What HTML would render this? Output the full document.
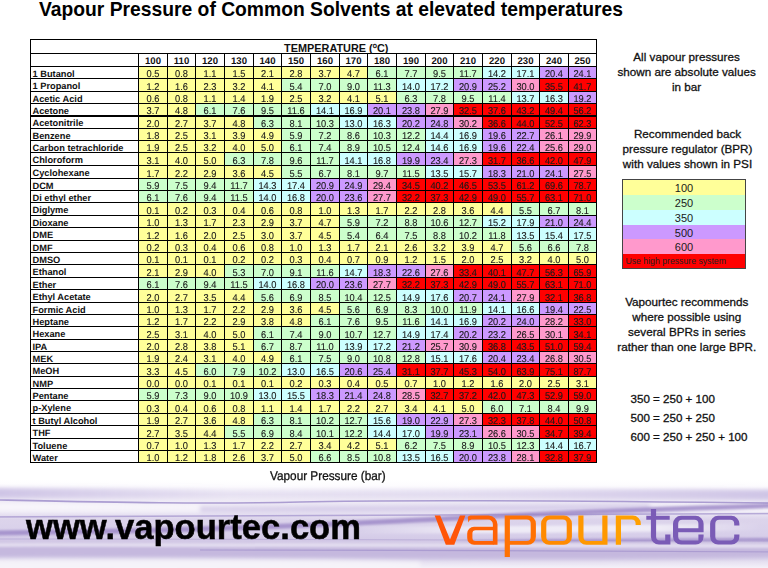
<!DOCTYPE html><html><head><meta charset="utf-8"><style>
*{margin:0;padding:0;box-sizing:border-box}
html,body{width:768px;height:568px;overflow:hidden;background:#fff;font-family:"Liberation Sans",sans-serif}
.a{position:absolute}
.c{position:absolute;text-align:center;font-size:9.9px;color:#1a1a1a;white-space:nowrap;-webkit-text-stroke:0.12px #1a1a1a;transform:scaleX(0.94);text-rendering:geometricPrecision}
.n{position:absolute;font-size:9.25px;font-weight:bold;color:#111;white-space:nowrap;text-rendering:geometricPrecision}
.h{position:absolute;text-align:center;font-size:9.6px;font-weight:bold;color:#111;text-rendering:geometricPrecision}
.l{position:absolute;background:#000}
.t{position:absolute;text-align:center;font-size:11.7px;color:#111;-webkit-text-stroke:0.3px #111;line-height:15.1px;white-space:nowrap}
</style></head><body>

<div class="a" style="left:39px;top:-0.8px;font-size:19.3px;font-weight:bold;color:#000;white-space:nowrap">Vapour Pressure of Common Solvents at elevated temperatures</div>
<div class="a" style="left:138px;top:66px;width:29px;height:12px;background:#ffff99"></div>
<div class="a" style="left:167px;top:66px;width:28px;height:12px;background:#ffff99"></div>
<div class="a" style="left:195px;top:66px;width:29px;height:12px;background:#ffff99"></div>
<div class="a" style="left:224px;top:66px;width:29px;height:12px;background:#ffff99"></div>
<div class="a" style="left:253px;top:66px;width:28px;height:12px;background:#ffff99"></div>
<div class="a" style="left:281px;top:66px;width:29px;height:12px;background:#ffff99"></div>
<div class="a" style="left:310px;top:66px;width:29px;height:12px;background:#ffff99"></div>
<div class="a" style="left:339px;top:66px;width:28px;height:12px;background:#ffff99"></div>
<div class="a" style="left:367px;top:66px;width:29px;height:12px;background:#ccffcc"></div>
<div class="a" style="left:396px;top:66px;width:29px;height:12px;background:#ccffcc"></div>
<div class="a" style="left:425px;top:66px;width:28px;height:12px;background:#ccffcc"></div>
<div class="a" style="left:453px;top:66px;width:29px;height:12px;background:#ccffcc"></div>
<div class="a" style="left:482px;top:66px;width:29px;height:12px;background:#ccffff"></div>
<div class="a" style="left:511px;top:66px;width:28px;height:12px;background:#ccffff"></div>
<div class="a" style="left:539px;top:66px;width:29px;height:12px;background:#cc99ff"></div>
<div class="a" style="left:568px;top:66px;width:28px;height:12px;background:#cc99ff"></div>
<div class="a" style="left:138px;top:78px;width:29px;height:13px;background:#ffff99"></div>
<div class="a" style="left:167px;top:78px;width:28px;height:13px;background:#ffff99"></div>
<div class="a" style="left:195px;top:78px;width:29px;height:13px;background:#ffff99"></div>
<div class="a" style="left:224px;top:78px;width:29px;height:13px;background:#ffff99"></div>
<div class="a" style="left:253px;top:78px;width:28px;height:13px;background:#ffff99"></div>
<div class="a" style="left:281px;top:78px;width:29px;height:13px;background:#ccffcc"></div>
<div class="a" style="left:310px;top:78px;width:29px;height:13px;background:#ccffcc"></div>
<div class="a" style="left:339px;top:78px;width:28px;height:13px;background:#ccffcc"></div>
<div class="a" style="left:367px;top:78px;width:29px;height:13px;background:#ccffcc"></div>
<div class="a" style="left:396px;top:78px;width:29px;height:13px;background:#ccffff"></div>
<div class="a" style="left:425px;top:78px;width:28px;height:13px;background:#ccffff"></div>
<div class="a" style="left:453px;top:78px;width:29px;height:13px;background:#cc99ff"></div>
<div class="a" style="left:482px;top:78px;width:29px;height:13px;background:#cc99ff"></div>
<div class="a" style="left:511px;top:78px;width:28px;height:13px;background:#ff99cc"></div>
<div class="a" style="left:539px;top:78px;width:29px;height:13px;background:#ff0000"></div>
<div class="a" style="left:568px;top:78px;width:28px;height:13px;background:#ff0000"></div>
<div class="a" style="left:138px;top:91px;width:29px;height:12px;background:#ffff99"></div>
<div class="a" style="left:167px;top:91px;width:28px;height:12px;background:#ffff99"></div>
<div class="a" style="left:195px;top:91px;width:29px;height:12px;background:#ffff99"></div>
<div class="a" style="left:224px;top:91px;width:29px;height:12px;background:#ffff99"></div>
<div class="a" style="left:253px;top:91px;width:28px;height:12px;background:#ffff99"></div>
<div class="a" style="left:281px;top:91px;width:29px;height:12px;background:#ffff99"></div>
<div class="a" style="left:310px;top:91px;width:29px;height:12px;background:#ffff99"></div>
<div class="a" style="left:339px;top:91px;width:28px;height:12px;background:#ffff99"></div>
<div class="a" style="left:367px;top:91px;width:29px;height:12px;background:#ffff99"></div>
<div class="a" style="left:396px;top:91px;width:29px;height:12px;background:#ccffcc"></div>
<div class="a" style="left:425px;top:91px;width:28px;height:12px;background:#ccffcc"></div>
<div class="a" style="left:453px;top:91px;width:29px;height:12px;background:#ccffcc"></div>
<div class="a" style="left:482px;top:91px;width:29px;height:12px;background:#ccffcc"></div>
<div class="a" style="left:511px;top:91px;width:28px;height:12px;background:#ccffff"></div>
<div class="a" style="left:539px;top:91px;width:29px;height:12px;background:#ccffff"></div>
<div class="a" style="left:568px;top:91px;width:28px;height:12px;background:#cc99ff"></div>
<div class="a" style="left:138px;top:103px;width:29px;height:12px;background:#ffff99"></div>
<div class="a" style="left:167px;top:103px;width:28px;height:12px;background:#ffff99"></div>
<div class="a" style="left:195px;top:103px;width:29px;height:12px;background:#ccffcc"></div>
<div class="a" style="left:224px;top:103px;width:29px;height:12px;background:#ccffcc"></div>
<div class="a" style="left:253px;top:103px;width:28px;height:12px;background:#ccffcc"></div>
<div class="a" style="left:281px;top:103px;width:29px;height:12px;background:#ccffcc"></div>
<div class="a" style="left:310px;top:103px;width:29px;height:12px;background:#ccffff"></div>
<div class="a" style="left:339px;top:103px;width:28px;height:12px;background:#ccffff"></div>
<div class="a" style="left:367px;top:103px;width:29px;height:12px;background:#cc99ff"></div>
<div class="a" style="left:396px;top:103px;width:29px;height:12px;background:#cc99ff"></div>
<div class="a" style="left:425px;top:103px;width:28px;height:12px;background:#ff99cc"></div>
<div class="a" style="left:453px;top:103px;width:29px;height:12px;background:#ff0000"></div>
<div class="a" style="left:482px;top:103px;width:29px;height:12px;background:#ff0000"></div>
<div class="a" style="left:511px;top:103px;width:28px;height:12px;background:#ff0000"></div>
<div class="a" style="left:539px;top:103px;width:29px;height:12px;background:#ff0000"></div>
<div class="a" style="left:568px;top:103px;width:28px;height:12px;background:#ff0000"></div>
<div class="a" style="left:138px;top:115px;width:29px;height:13px;background:#ffff99"></div>
<div class="a" style="left:167px;top:115px;width:28px;height:13px;background:#ffff99"></div>
<div class="a" style="left:195px;top:115px;width:29px;height:13px;background:#ffff99"></div>
<div class="a" style="left:224px;top:115px;width:29px;height:13px;background:#ffff99"></div>
<div class="a" style="left:253px;top:115px;width:28px;height:13px;background:#ccffcc"></div>
<div class="a" style="left:281px;top:115px;width:29px;height:13px;background:#ccffcc"></div>
<div class="a" style="left:310px;top:115px;width:29px;height:13px;background:#ccffcc"></div>
<div class="a" style="left:339px;top:115px;width:28px;height:13px;background:#ccffff"></div>
<div class="a" style="left:367px;top:115px;width:29px;height:13px;background:#ccffff"></div>
<div class="a" style="left:396px;top:115px;width:29px;height:13px;background:#cc99ff"></div>
<div class="a" style="left:425px;top:115px;width:28px;height:13px;background:#cc99ff"></div>
<div class="a" style="left:453px;top:115px;width:29px;height:13px;background:#ff99cc"></div>
<div class="a" style="left:482px;top:115px;width:29px;height:13px;background:#ff0000"></div>
<div class="a" style="left:511px;top:115px;width:28px;height:13px;background:#ff0000"></div>
<div class="a" style="left:539px;top:115px;width:29px;height:13px;background:#ff0000"></div>
<div class="a" style="left:568px;top:115px;width:28px;height:13px;background:#ff0000"></div>
<div class="a" style="left:138px;top:128px;width:29px;height:12px;background:#ffff99"></div>
<div class="a" style="left:167px;top:128px;width:28px;height:12px;background:#ffff99"></div>
<div class="a" style="left:195px;top:128px;width:29px;height:12px;background:#ffff99"></div>
<div class="a" style="left:224px;top:128px;width:29px;height:12px;background:#ffff99"></div>
<div class="a" style="left:253px;top:128px;width:28px;height:12px;background:#ffff99"></div>
<div class="a" style="left:281px;top:128px;width:29px;height:12px;background:#ccffcc"></div>
<div class="a" style="left:310px;top:128px;width:29px;height:12px;background:#ccffcc"></div>
<div class="a" style="left:339px;top:128px;width:28px;height:12px;background:#ccffcc"></div>
<div class="a" style="left:367px;top:128px;width:29px;height:12px;background:#ccffcc"></div>
<div class="a" style="left:396px;top:128px;width:29px;height:12px;background:#ccffcc"></div>
<div class="a" style="left:425px;top:128px;width:28px;height:12px;background:#ccffff"></div>
<div class="a" style="left:453px;top:128px;width:29px;height:12px;background:#ccffff"></div>
<div class="a" style="left:482px;top:128px;width:29px;height:12px;background:#cc99ff"></div>
<div class="a" style="left:511px;top:128px;width:28px;height:12px;background:#cc99ff"></div>
<div class="a" style="left:539px;top:128px;width:29px;height:12px;background:#ff99cc"></div>
<div class="a" style="left:568px;top:128px;width:28px;height:12px;background:#ff99cc"></div>
<div class="a" style="left:138px;top:140px;width:29px;height:12px;background:#ffff99"></div>
<div class="a" style="left:167px;top:140px;width:28px;height:12px;background:#ffff99"></div>
<div class="a" style="left:195px;top:140px;width:29px;height:12px;background:#ffff99"></div>
<div class="a" style="left:224px;top:140px;width:29px;height:12px;background:#ffff99"></div>
<div class="a" style="left:253px;top:140px;width:28px;height:12px;background:#ffff99"></div>
<div class="a" style="left:281px;top:140px;width:29px;height:12px;background:#ccffcc"></div>
<div class="a" style="left:310px;top:140px;width:29px;height:12px;background:#ccffcc"></div>
<div class="a" style="left:339px;top:140px;width:28px;height:12px;background:#ccffcc"></div>
<div class="a" style="left:367px;top:140px;width:29px;height:12px;background:#ccffcc"></div>
<div class="a" style="left:396px;top:140px;width:29px;height:12px;background:#ccffcc"></div>
<div class="a" style="left:425px;top:140px;width:28px;height:12px;background:#ccffff"></div>
<div class="a" style="left:453px;top:140px;width:29px;height:12px;background:#ccffff"></div>
<div class="a" style="left:482px;top:140px;width:29px;height:12px;background:#cc99ff"></div>
<div class="a" style="left:511px;top:140px;width:28px;height:12px;background:#cc99ff"></div>
<div class="a" style="left:539px;top:140px;width:29px;height:12px;background:#ff99cc"></div>
<div class="a" style="left:568px;top:140px;width:28px;height:12px;background:#ff99cc"></div>
<div class="a" style="left:138px;top:152px;width:29px;height:13px;background:#ffff99"></div>
<div class="a" style="left:167px;top:152px;width:28px;height:13px;background:#ffff99"></div>
<div class="a" style="left:195px;top:152px;width:29px;height:13px;background:#ffff99"></div>
<div class="a" style="left:224px;top:152px;width:29px;height:13px;background:#ccffcc"></div>
<div class="a" style="left:253px;top:152px;width:28px;height:13px;background:#ccffcc"></div>
<div class="a" style="left:281px;top:152px;width:29px;height:13px;background:#ccffcc"></div>
<div class="a" style="left:310px;top:152px;width:29px;height:13px;background:#ccffcc"></div>
<div class="a" style="left:339px;top:152px;width:28px;height:13px;background:#ccffff"></div>
<div class="a" style="left:367px;top:152px;width:29px;height:13px;background:#ccffff"></div>
<div class="a" style="left:396px;top:152px;width:29px;height:13px;background:#cc99ff"></div>
<div class="a" style="left:425px;top:152px;width:28px;height:13px;background:#cc99ff"></div>
<div class="a" style="left:453px;top:152px;width:29px;height:13px;background:#ff99cc"></div>
<div class="a" style="left:482px;top:152px;width:29px;height:13px;background:#ff0000"></div>
<div class="a" style="left:511px;top:152px;width:28px;height:13px;background:#ff0000"></div>
<div class="a" style="left:539px;top:152px;width:29px;height:13px;background:#ff0000"></div>
<div class="a" style="left:568px;top:152px;width:28px;height:13px;background:#ff0000"></div>
<div class="a" style="left:138px;top:165px;width:29px;height:13px;background:#ffff99"></div>
<div class="a" style="left:167px;top:165px;width:28px;height:13px;background:#ffff99"></div>
<div class="a" style="left:195px;top:165px;width:29px;height:13px;background:#ffff99"></div>
<div class="a" style="left:224px;top:165px;width:29px;height:13px;background:#ffff99"></div>
<div class="a" style="left:253px;top:165px;width:28px;height:13px;background:#ffff99"></div>
<div class="a" style="left:281px;top:165px;width:29px;height:13px;background:#ccffcc"></div>
<div class="a" style="left:310px;top:165px;width:29px;height:13px;background:#ccffcc"></div>
<div class="a" style="left:339px;top:165px;width:28px;height:13px;background:#ccffcc"></div>
<div class="a" style="left:367px;top:165px;width:29px;height:13px;background:#ccffcc"></div>
<div class="a" style="left:396px;top:165px;width:29px;height:13px;background:#ccffcc"></div>
<div class="a" style="left:425px;top:165px;width:28px;height:13px;background:#ccffff"></div>
<div class="a" style="left:453px;top:165px;width:29px;height:13px;background:#ccffff"></div>
<div class="a" style="left:482px;top:165px;width:29px;height:13px;background:#cc99ff"></div>
<div class="a" style="left:511px;top:165px;width:28px;height:13px;background:#cc99ff"></div>
<div class="a" style="left:539px;top:165px;width:29px;height:13px;background:#cc99ff"></div>
<div class="a" style="left:568px;top:165px;width:28px;height:13px;background:#ff99cc"></div>
<div class="a" style="left:138px;top:178px;width:29px;height:12px;background:#ccffcc"></div>
<div class="a" style="left:167px;top:178px;width:28px;height:12px;background:#ccffcc"></div>
<div class="a" style="left:195px;top:178px;width:29px;height:12px;background:#ccffcc"></div>
<div class="a" style="left:224px;top:178px;width:29px;height:12px;background:#ccffcc"></div>
<div class="a" style="left:253px;top:178px;width:28px;height:12px;background:#ccffff"></div>
<div class="a" style="left:281px;top:178px;width:29px;height:12px;background:#ccffff"></div>
<div class="a" style="left:310px;top:178px;width:29px;height:12px;background:#cc99ff"></div>
<div class="a" style="left:339px;top:178px;width:28px;height:12px;background:#cc99ff"></div>
<div class="a" style="left:367px;top:178px;width:29px;height:12px;background:#ff99cc"></div>
<div class="a" style="left:396px;top:178px;width:29px;height:12px;background:#ff0000"></div>
<div class="a" style="left:425px;top:178px;width:28px;height:12px;background:#ff0000"></div>
<div class="a" style="left:453px;top:178px;width:29px;height:12px;background:#ff0000"></div>
<div class="a" style="left:482px;top:178px;width:29px;height:12px;background:#ff0000"></div>
<div class="a" style="left:511px;top:178px;width:28px;height:12px;background:#ff0000"></div>
<div class="a" style="left:539px;top:178px;width:29px;height:12px;background:#ff0000"></div>
<div class="a" style="left:568px;top:178px;width:28px;height:12px;background:#ff0000"></div>
<div class="a" style="left:138px;top:190px;width:29px;height:12px;background:#ccffcc"></div>
<div class="a" style="left:167px;top:190px;width:28px;height:12px;background:#ccffcc"></div>
<div class="a" style="left:195px;top:190px;width:29px;height:12px;background:#ccffcc"></div>
<div class="a" style="left:224px;top:190px;width:29px;height:12px;background:#ccffcc"></div>
<div class="a" style="left:253px;top:190px;width:28px;height:12px;background:#ccffff"></div>
<div class="a" style="left:281px;top:190px;width:29px;height:12px;background:#ccffff"></div>
<div class="a" style="left:310px;top:190px;width:29px;height:12px;background:#cc99ff"></div>
<div class="a" style="left:339px;top:190px;width:28px;height:12px;background:#cc99ff"></div>
<div class="a" style="left:367px;top:190px;width:29px;height:12px;background:#ff99cc"></div>
<div class="a" style="left:396px;top:190px;width:29px;height:12px;background:#ff0000"></div>
<div class="a" style="left:425px;top:190px;width:28px;height:12px;background:#ff0000"></div>
<div class="a" style="left:453px;top:190px;width:29px;height:12px;background:#ff0000"></div>
<div class="a" style="left:482px;top:190px;width:29px;height:12px;background:#ff0000"></div>
<div class="a" style="left:511px;top:190px;width:28px;height:12px;background:#ff0000"></div>
<div class="a" style="left:539px;top:190px;width:29px;height:12px;background:#ff0000"></div>
<div class="a" style="left:568px;top:190px;width:28px;height:12px;background:#ff0000"></div>
<div class="a" style="left:138px;top:202px;width:29px;height:13px;background:#ffff99"></div>
<div class="a" style="left:167px;top:202px;width:28px;height:13px;background:#ffff99"></div>
<div class="a" style="left:195px;top:202px;width:29px;height:13px;background:#ffff99"></div>
<div class="a" style="left:224px;top:202px;width:29px;height:13px;background:#ffff99"></div>
<div class="a" style="left:253px;top:202px;width:28px;height:13px;background:#ffff99"></div>
<div class="a" style="left:281px;top:202px;width:29px;height:13px;background:#ffff99"></div>
<div class="a" style="left:310px;top:202px;width:29px;height:13px;background:#ffff99"></div>
<div class="a" style="left:339px;top:202px;width:28px;height:13px;background:#ffff99"></div>
<div class="a" style="left:367px;top:202px;width:29px;height:13px;background:#ffff99"></div>
<div class="a" style="left:396px;top:202px;width:29px;height:13px;background:#ffff99"></div>
<div class="a" style="left:425px;top:202px;width:28px;height:13px;background:#ffff99"></div>
<div class="a" style="left:453px;top:202px;width:29px;height:13px;background:#ffff99"></div>
<div class="a" style="left:482px;top:202px;width:29px;height:13px;background:#ffff99"></div>
<div class="a" style="left:511px;top:202px;width:28px;height:13px;background:#ccffcc"></div>
<div class="a" style="left:539px;top:202px;width:29px;height:13px;background:#ccffcc"></div>
<div class="a" style="left:568px;top:202px;width:28px;height:13px;background:#ccffcc"></div>
<div class="a" style="left:138px;top:215px;width:29px;height:12px;background:#ffff99"></div>
<div class="a" style="left:167px;top:215px;width:28px;height:12px;background:#ffff99"></div>
<div class="a" style="left:195px;top:215px;width:29px;height:12px;background:#ffff99"></div>
<div class="a" style="left:224px;top:215px;width:29px;height:12px;background:#ffff99"></div>
<div class="a" style="left:253px;top:215px;width:28px;height:12px;background:#ffff99"></div>
<div class="a" style="left:281px;top:215px;width:29px;height:12px;background:#ffff99"></div>
<div class="a" style="left:310px;top:215px;width:29px;height:12px;background:#ffff99"></div>
<div class="a" style="left:339px;top:215px;width:28px;height:12px;background:#ccffcc"></div>
<div class="a" style="left:367px;top:215px;width:29px;height:12px;background:#ccffcc"></div>
<div class="a" style="left:396px;top:215px;width:29px;height:12px;background:#ccffcc"></div>
<div class="a" style="left:425px;top:215px;width:28px;height:12px;background:#ccffcc"></div>
<div class="a" style="left:453px;top:215px;width:29px;height:12px;background:#ccffcc"></div>
<div class="a" style="left:482px;top:215px;width:29px;height:12px;background:#ccffff"></div>
<div class="a" style="left:511px;top:215px;width:28px;height:12px;background:#ccffff"></div>
<div class="a" style="left:539px;top:215px;width:29px;height:12px;background:#cc99ff"></div>
<div class="a" style="left:568px;top:215px;width:28px;height:12px;background:#cc99ff"></div>
<div class="a" style="left:138px;top:227px;width:29px;height:13px;background:#ffff99"></div>
<div class="a" style="left:167px;top:227px;width:28px;height:13px;background:#ffff99"></div>
<div class="a" style="left:195px;top:227px;width:29px;height:13px;background:#ffff99"></div>
<div class="a" style="left:224px;top:227px;width:29px;height:13px;background:#ffff99"></div>
<div class="a" style="left:253px;top:227px;width:28px;height:13px;background:#ffff99"></div>
<div class="a" style="left:281px;top:227px;width:29px;height:13px;background:#ffff99"></div>
<div class="a" style="left:310px;top:227px;width:29px;height:13px;background:#ffff99"></div>
<div class="a" style="left:339px;top:227px;width:28px;height:13px;background:#ccffcc"></div>
<div class="a" style="left:367px;top:227px;width:29px;height:13px;background:#ccffcc"></div>
<div class="a" style="left:396px;top:227px;width:29px;height:13px;background:#ccffcc"></div>
<div class="a" style="left:425px;top:227px;width:28px;height:13px;background:#ccffcc"></div>
<div class="a" style="left:453px;top:227px;width:29px;height:13px;background:#ccffcc"></div>
<div class="a" style="left:482px;top:227px;width:29px;height:13px;background:#ccffcc"></div>
<div class="a" style="left:511px;top:227px;width:28px;height:13px;background:#ccffff"></div>
<div class="a" style="left:539px;top:227px;width:29px;height:13px;background:#ccffff"></div>
<div class="a" style="left:568px;top:227px;width:28px;height:13px;background:#ccffff"></div>
<div class="a" style="left:138px;top:240px;width:29px;height:12px;background:#ffff99"></div>
<div class="a" style="left:167px;top:240px;width:28px;height:12px;background:#ffff99"></div>
<div class="a" style="left:195px;top:240px;width:29px;height:12px;background:#ffff99"></div>
<div class="a" style="left:224px;top:240px;width:29px;height:12px;background:#ffff99"></div>
<div class="a" style="left:253px;top:240px;width:28px;height:12px;background:#ffff99"></div>
<div class="a" style="left:281px;top:240px;width:29px;height:12px;background:#ffff99"></div>
<div class="a" style="left:310px;top:240px;width:29px;height:12px;background:#ffff99"></div>
<div class="a" style="left:339px;top:240px;width:28px;height:12px;background:#ffff99"></div>
<div class="a" style="left:367px;top:240px;width:29px;height:12px;background:#ffff99"></div>
<div class="a" style="left:396px;top:240px;width:29px;height:12px;background:#ffff99"></div>
<div class="a" style="left:425px;top:240px;width:28px;height:12px;background:#ffff99"></div>
<div class="a" style="left:453px;top:240px;width:29px;height:12px;background:#ffff99"></div>
<div class="a" style="left:482px;top:240px;width:29px;height:12px;background:#ffff99"></div>
<div class="a" style="left:511px;top:240px;width:28px;height:12px;background:#ccffcc"></div>
<div class="a" style="left:539px;top:240px;width:29px;height:12px;background:#ccffcc"></div>
<div class="a" style="left:568px;top:240px;width:28px;height:12px;background:#ccffcc"></div>
<div class="a" style="left:138px;top:252px;width:29px;height:12px;background:#ffff99"></div>
<div class="a" style="left:167px;top:252px;width:28px;height:12px;background:#ffff99"></div>
<div class="a" style="left:195px;top:252px;width:29px;height:12px;background:#ffff99"></div>
<div class="a" style="left:224px;top:252px;width:29px;height:12px;background:#ffff99"></div>
<div class="a" style="left:253px;top:252px;width:28px;height:12px;background:#ffff99"></div>
<div class="a" style="left:281px;top:252px;width:29px;height:12px;background:#ffff99"></div>
<div class="a" style="left:310px;top:252px;width:29px;height:12px;background:#ffff99"></div>
<div class="a" style="left:339px;top:252px;width:28px;height:12px;background:#ffff99"></div>
<div class="a" style="left:367px;top:252px;width:29px;height:12px;background:#ffff99"></div>
<div class="a" style="left:396px;top:252px;width:29px;height:12px;background:#ffff99"></div>
<div class="a" style="left:425px;top:252px;width:28px;height:12px;background:#ffff99"></div>
<div class="a" style="left:453px;top:252px;width:29px;height:12px;background:#ffff99"></div>
<div class="a" style="left:482px;top:252px;width:29px;height:12px;background:#ffff99"></div>
<div class="a" style="left:511px;top:252px;width:28px;height:12px;background:#ffff99"></div>
<div class="a" style="left:539px;top:252px;width:29px;height:12px;background:#ffff99"></div>
<div class="a" style="left:568px;top:252px;width:28px;height:12px;background:#ffff99"></div>
<div class="a" style="left:138px;top:264px;width:29px;height:13px;background:#ffff99"></div>
<div class="a" style="left:167px;top:264px;width:28px;height:13px;background:#ffff99"></div>
<div class="a" style="left:195px;top:264px;width:29px;height:13px;background:#ffff99"></div>
<div class="a" style="left:224px;top:264px;width:29px;height:13px;background:#ccffcc"></div>
<div class="a" style="left:253px;top:264px;width:28px;height:13px;background:#ccffcc"></div>
<div class="a" style="left:281px;top:264px;width:29px;height:13px;background:#ccffcc"></div>
<div class="a" style="left:310px;top:264px;width:29px;height:13px;background:#ccffcc"></div>
<div class="a" style="left:339px;top:264px;width:28px;height:13px;background:#ccffff"></div>
<div class="a" style="left:367px;top:264px;width:29px;height:13px;background:#cc99ff"></div>
<div class="a" style="left:396px;top:264px;width:29px;height:13px;background:#cc99ff"></div>
<div class="a" style="left:425px;top:264px;width:28px;height:13px;background:#ff99cc"></div>
<div class="a" style="left:453px;top:264px;width:29px;height:13px;background:#ff0000"></div>
<div class="a" style="left:482px;top:264px;width:29px;height:13px;background:#ff0000"></div>
<div class="a" style="left:511px;top:264px;width:28px;height:13px;background:#ff0000"></div>
<div class="a" style="left:539px;top:264px;width:29px;height:13px;background:#ff0000"></div>
<div class="a" style="left:568px;top:264px;width:28px;height:13px;background:#ff0000"></div>
<div class="a" style="left:138px;top:277px;width:29px;height:12px;background:#ccffcc"></div>
<div class="a" style="left:167px;top:277px;width:28px;height:12px;background:#ccffcc"></div>
<div class="a" style="left:195px;top:277px;width:29px;height:12px;background:#ccffcc"></div>
<div class="a" style="left:224px;top:277px;width:29px;height:12px;background:#ccffcc"></div>
<div class="a" style="left:253px;top:277px;width:28px;height:12px;background:#ccffff"></div>
<div class="a" style="left:281px;top:277px;width:29px;height:12px;background:#ccffff"></div>
<div class="a" style="left:310px;top:277px;width:29px;height:12px;background:#cc99ff"></div>
<div class="a" style="left:339px;top:277px;width:28px;height:12px;background:#cc99ff"></div>
<div class="a" style="left:367px;top:277px;width:29px;height:12px;background:#ff99cc"></div>
<div class="a" style="left:396px;top:277px;width:29px;height:12px;background:#ff0000"></div>
<div class="a" style="left:425px;top:277px;width:28px;height:12px;background:#ff0000"></div>
<div class="a" style="left:453px;top:277px;width:29px;height:12px;background:#ff0000"></div>
<div class="a" style="left:482px;top:277px;width:29px;height:12px;background:#ff0000"></div>
<div class="a" style="left:511px;top:277px;width:28px;height:12px;background:#ff0000"></div>
<div class="a" style="left:539px;top:277px;width:29px;height:12px;background:#ff0000"></div>
<div class="a" style="left:568px;top:277px;width:28px;height:12px;background:#ff0000"></div>
<div class="a" style="left:138px;top:289px;width:29px;height:13px;background:#ffff99"></div>
<div class="a" style="left:167px;top:289px;width:28px;height:13px;background:#ffff99"></div>
<div class="a" style="left:195px;top:289px;width:29px;height:13px;background:#ffff99"></div>
<div class="a" style="left:224px;top:289px;width:29px;height:13px;background:#ffff99"></div>
<div class="a" style="left:253px;top:289px;width:28px;height:13px;background:#ccffcc"></div>
<div class="a" style="left:281px;top:289px;width:29px;height:13px;background:#ccffcc"></div>
<div class="a" style="left:310px;top:289px;width:29px;height:13px;background:#ccffcc"></div>
<div class="a" style="left:339px;top:289px;width:28px;height:13px;background:#ccffcc"></div>
<div class="a" style="left:367px;top:289px;width:29px;height:13px;background:#ccffcc"></div>
<div class="a" style="left:396px;top:289px;width:29px;height:13px;background:#ccffff"></div>
<div class="a" style="left:425px;top:289px;width:28px;height:13px;background:#ccffff"></div>
<div class="a" style="left:453px;top:289px;width:29px;height:13px;background:#cc99ff"></div>
<div class="a" style="left:482px;top:289px;width:29px;height:13px;background:#cc99ff"></div>
<div class="a" style="left:511px;top:289px;width:28px;height:13px;background:#ff99cc"></div>
<div class="a" style="left:539px;top:289px;width:29px;height:13px;background:#ff0000"></div>
<div class="a" style="left:568px;top:289px;width:28px;height:13px;background:#ff0000"></div>
<div class="a" style="left:138px;top:302px;width:29px;height:12px;background:#ffff99"></div>
<div class="a" style="left:167px;top:302px;width:28px;height:12px;background:#ffff99"></div>
<div class="a" style="left:195px;top:302px;width:29px;height:12px;background:#ffff99"></div>
<div class="a" style="left:224px;top:302px;width:29px;height:12px;background:#ffff99"></div>
<div class="a" style="left:253px;top:302px;width:28px;height:12px;background:#ffff99"></div>
<div class="a" style="left:281px;top:302px;width:29px;height:12px;background:#ffff99"></div>
<div class="a" style="left:310px;top:302px;width:29px;height:12px;background:#ffff99"></div>
<div class="a" style="left:339px;top:302px;width:28px;height:12px;background:#ccffcc"></div>
<div class="a" style="left:367px;top:302px;width:29px;height:12px;background:#ccffcc"></div>
<div class="a" style="left:396px;top:302px;width:29px;height:12px;background:#ccffcc"></div>
<div class="a" style="left:425px;top:302px;width:28px;height:12px;background:#ccffcc"></div>
<div class="a" style="left:453px;top:302px;width:29px;height:12px;background:#ccffcc"></div>
<div class="a" style="left:482px;top:302px;width:29px;height:12px;background:#ccffff"></div>
<div class="a" style="left:511px;top:302px;width:28px;height:12px;background:#ccffff"></div>
<div class="a" style="left:539px;top:302px;width:29px;height:12px;background:#cc99ff"></div>
<div class="a" style="left:568px;top:302px;width:28px;height:12px;background:#cc99ff"></div>
<div class="a" style="left:138px;top:314px;width:29px;height:12px;background:#ffff99"></div>
<div class="a" style="left:167px;top:314px;width:28px;height:12px;background:#ffff99"></div>
<div class="a" style="left:195px;top:314px;width:29px;height:12px;background:#ffff99"></div>
<div class="a" style="left:224px;top:314px;width:29px;height:12px;background:#ffff99"></div>
<div class="a" style="left:253px;top:314px;width:28px;height:12px;background:#ffff99"></div>
<div class="a" style="left:281px;top:314px;width:29px;height:12px;background:#ffff99"></div>
<div class="a" style="left:310px;top:314px;width:29px;height:12px;background:#ccffcc"></div>
<div class="a" style="left:339px;top:314px;width:28px;height:12px;background:#ccffcc"></div>
<div class="a" style="left:367px;top:314px;width:29px;height:12px;background:#ccffcc"></div>
<div class="a" style="left:396px;top:314px;width:29px;height:12px;background:#ccffcc"></div>
<div class="a" style="left:425px;top:314px;width:28px;height:12px;background:#ccffff"></div>
<div class="a" style="left:453px;top:314px;width:29px;height:12px;background:#ccffff"></div>
<div class="a" style="left:482px;top:314px;width:29px;height:12px;background:#cc99ff"></div>
<div class="a" style="left:511px;top:314px;width:28px;height:12px;background:#cc99ff"></div>
<div class="a" style="left:539px;top:314px;width:29px;height:12px;background:#ff99cc"></div>
<div class="a" style="left:568px;top:314px;width:28px;height:12px;background:#ff0000"></div>
<div class="a" style="left:138px;top:326px;width:29px;height:13px;background:#ffff99"></div>
<div class="a" style="left:167px;top:326px;width:28px;height:13px;background:#ffff99"></div>
<div class="a" style="left:195px;top:326px;width:29px;height:13px;background:#ffff99"></div>
<div class="a" style="left:224px;top:326px;width:29px;height:13px;background:#ffff99"></div>
<div class="a" style="left:253px;top:326px;width:28px;height:13px;background:#ccffcc"></div>
<div class="a" style="left:281px;top:326px;width:29px;height:13px;background:#ccffcc"></div>
<div class="a" style="left:310px;top:326px;width:29px;height:13px;background:#ccffcc"></div>
<div class="a" style="left:339px;top:326px;width:28px;height:13px;background:#ccffcc"></div>
<div class="a" style="left:367px;top:326px;width:29px;height:13px;background:#ccffcc"></div>
<div class="a" style="left:396px;top:326px;width:29px;height:13px;background:#ccffff"></div>
<div class="a" style="left:425px;top:326px;width:28px;height:13px;background:#ccffff"></div>
<div class="a" style="left:453px;top:326px;width:29px;height:13px;background:#cc99ff"></div>
<div class="a" style="left:482px;top:326px;width:29px;height:13px;background:#cc99ff"></div>
<div class="a" style="left:511px;top:326px;width:28px;height:13px;background:#ff99cc"></div>
<div class="a" style="left:539px;top:326px;width:29px;height:13px;background:#ff99cc"></div>
<div class="a" style="left:568px;top:326px;width:28px;height:13px;background:#ff0000"></div>
<div class="a" style="left:138px;top:339px;width:29px;height:12px;background:#ffff99"></div>
<div class="a" style="left:167px;top:339px;width:28px;height:12px;background:#ffff99"></div>
<div class="a" style="left:195px;top:339px;width:29px;height:12px;background:#ffff99"></div>
<div class="a" style="left:224px;top:339px;width:29px;height:12px;background:#ffff99"></div>
<div class="a" style="left:253px;top:339px;width:28px;height:12px;background:#ccffcc"></div>
<div class="a" style="left:281px;top:339px;width:29px;height:12px;background:#ccffcc"></div>
<div class="a" style="left:310px;top:339px;width:29px;height:12px;background:#ccffcc"></div>
<div class="a" style="left:339px;top:339px;width:28px;height:12px;background:#ccffff"></div>
<div class="a" style="left:367px;top:339px;width:29px;height:12px;background:#ccffff"></div>
<div class="a" style="left:396px;top:339px;width:29px;height:12px;background:#cc99ff"></div>
<div class="a" style="left:425px;top:339px;width:28px;height:12px;background:#ff99cc"></div>
<div class="a" style="left:453px;top:339px;width:29px;height:12px;background:#ff99cc"></div>
<div class="a" style="left:482px;top:339px;width:29px;height:12px;background:#ff0000"></div>
<div class="a" style="left:511px;top:339px;width:28px;height:12px;background:#ff0000"></div>
<div class="a" style="left:539px;top:339px;width:29px;height:12px;background:#ff0000"></div>
<div class="a" style="left:568px;top:339px;width:28px;height:12px;background:#ff0000"></div>
<div class="a" style="left:138px;top:351px;width:29px;height:12px;background:#ffff99"></div>
<div class="a" style="left:167px;top:351px;width:28px;height:12px;background:#ffff99"></div>
<div class="a" style="left:195px;top:351px;width:29px;height:12px;background:#ffff99"></div>
<div class="a" style="left:224px;top:351px;width:29px;height:12px;background:#ffff99"></div>
<div class="a" style="left:253px;top:351px;width:28px;height:12px;background:#ffff99"></div>
<div class="a" style="left:281px;top:351px;width:29px;height:12px;background:#ccffcc"></div>
<div class="a" style="left:310px;top:351px;width:29px;height:12px;background:#ccffcc"></div>
<div class="a" style="left:339px;top:351px;width:28px;height:12px;background:#ccffcc"></div>
<div class="a" style="left:367px;top:351px;width:29px;height:12px;background:#ccffcc"></div>
<div class="a" style="left:396px;top:351px;width:29px;height:12px;background:#ccffcc"></div>
<div class="a" style="left:425px;top:351px;width:28px;height:12px;background:#ccffff"></div>
<div class="a" style="left:453px;top:351px;width:29px;height:12px;background:#ccffff"></div>
<div class="a" style="left:482px;top:351px;width:29px;height:12px;background:#cc99ff"></div>
<div class="a" style="left:511px;top:351px;width:28px;height:12px;background:#cc99ff"></div>
<div class="a" style="left:539px;top:351px;width:29px;height:12px;background:#ff99cc"></div>
<div class="a" style="left:568px;top:351px;width:28px;height:12px;background:#ff99cc"></div>
<div class="a" style="left:138px;top:363px;width:29px;height:13px;background:#ffff99"></div>
<div class="a" style="left:167px;top:363px;width:28px;height:13px;background:#ffff99"></div>
<div class="a" style="left:195px;top:363px;width:29px;height:13px;background:#ccffcc"></div>
<div class="a" style="left:224px;top:363px;width:29px;height:13px;background:#ccffcc"></div>
<div class="a" style="left:253px;top:363px;width:28px;height:13px;background:#ccffcc"></div>
<div class="a" style="left:281px;top:363px;width:29px;height:13px;background:#ccffff"></div>
<div class="a" style="left:310px;top:363px;width:29px;height:13px;background:#ccffff"></div>
<div class="a" style="left:339px;top:363px;width:28px;height:13px;background:#cc99ff"></div>
<div class="a" style="left:367px;top:363px;width:29px;height:13px;background:#cc99ff"></div>
<div class="a" style="left:396px;top:363px;width:29px;height:13px;background:#ff0000"></div>
<div class="a" style="left:425px;top:363px;width:28px;height:13px;background:#ff0000"></div>
<div class="a" style="left:453px;top:363px;width:29px;height:13px;background:#ff0000"></div>
<div class="a" style="left:482px;top:363px;width:29px;height:13px;background:#ff0000"></div>
<div class="a" style="left:511px;top:363px;width:28px;height:13px;background:#ff0000"></div>
<div class="a" style="left:539px;top:363px;width:29px;height:13px;background:#ff0000"></div>
<div class="a" style="left:568px;top:363px;width:28px;height:13px;background:#ff0000"></div>
<div class="a" style="left:138px;top:376px;width:29px;height:12px;background:#ffff99"></div>
<div class="a" style="left:167px;top:376px;width:28px;height:12px;background:#ffff99"></div>
<div class="a" style="left:195px;top:376px;width:29px;height:12px;background:#ffff99"></div>
<div class="a" style="left:224px;top:376px;width:29px;height:12px;background:#ffff99"></div>
<div class="a" style="left:253px;top:376px;width:28px;height:12px;background:#ffff99"></div>
<div class="a" style="left:281px;top:376px;width:29px;height:12px;background:#ffff99"></div>
<div class="a" style="left:310px;top:376px;width:29px;height:12px;background:#ffff99"></div>
<div class="a" style="left:339px;top:376px;width:28px;height:12px;background:#ffff99"></div>
<div class="a" style="left:367px;top:376px;width:29px;height:12px;background:#ffff99"></div>
<div class="a" style="left:396px;top:376px;width:29px;height:12px;background:#ffff99"></div>
<div class="a" style="left:425px;top:376px;width:28px;height:12px;background:#ffff99"></div>
<div class="a" style="left:453px;top:376px;width:29px;height:12px;background:#ffff99"></div>
<div class="a" style="left:482px;top:376px;width:29px;height:12px;background:#ffff99"></div>
<div class="a" style="left:511px;top:376px;width:28px;height:12px;background:#ffff99"></div>
<div class="a" style="left:539px;top:376px;width:29px;height:12px;background:#ffff99"></div>
<div class="a" style="left:568px;top:376px;width:28px;height:12px;background:#ffff99"></div>
<div class="a" style="left:138px;top:388px;width:29px;height:12px;background:#ccffcc"></div>
<div class="a" style="left:167px;top:388px;width:28px;height:12px;background:#ccffcc"></div>
<div class="a" style="left:195px;top:388px;width:29px;height:12px;background:#ccffcc"></div>
<div class="a" style="left:224px;top:388px;width:29px;height:12px;background:#ccffcc"></div>
<div class="a" style="left:253px;top:388px;width:28px;height:12px;background:#ccffff"></div>
<div class="a" style="left:281px;top:388px;width:29px;height:12px;background:#ccffff"></div>
<div class="a" style="left:310px;top:388px;width:29px;height:12px;background:#cc99ff"></div>
<div class="a" style="left:339px;top:388px;width:28px;height:12px;background:#cc99ff"></div>
<div class="a" style="left:367px;top:388px;width:29px;height:12px;background:#cc99ff"></div>
<div class="a" style="left:396px;top:388px;width:29px;height:12px;background:#ff99cc"></div>
<div class="a" style="left:425px;top:388px;width:28px;height:12px;background:#ff0000"></div>
<div class="a" style="left:453px;top:388px;width:29px;height:12px;background:#ff0000"></div>
<div class="a" style="left:482px;top:388px;width:29px;height:12px;background:#ff0000"></div>
<div class="a" style="left:511px;top:388px;width:28px;height:12px;background:#ff0000"></div>
<div class="a" style="left:539px;top:388px;width:29px;height:12px;background:#ff0000"></div>
<div class="a" style="left:568px;top:388px;width:28px;height:12px;background:#ff0000"></div>
<div class="a" style="left:138px;top:400px;width:29px;height:13px;background:#ffff99"></div>
<div class="a" style="left:167px;top:400px;width:28px;height:13px;background:#ffff99"></div>
<div class="a" style="left:195px;top:400px;width:29px;height:13px;background:#ffff99"></div>
<div class="a" style="left:224px;top:400px;width:29px;height:13px;background:#ffff99"></div>
<div class="a" style="left:253px;top:400px;width:28px;height:13px;background:#ffff99"></div>
<div class="a" style="left:281px;top:400px;width:29px;height:13px;background:#ffff99"></div>
<div class="a" style="left:310px;top:400px;width:29px;height:13px;background:#ffff99"></div>
<div class="a" style="left:339px;top:400px;width:28px;height:13px;background:#ffff99"></div>
<div class="a" style="left:367px;top:400px;width:29px;height:13px;background:#ffff99"></div>
<div class="a" style="left:396px;top:400px;width:29px;height:13px;background:#ffff99"></div>
<div class="a" style="left:425px;top:400px;width:28px;height:13px;background:#ffff99"></div>
<div class="a" style="left:453px;top:400px;width:29px;height:13px;background:#ffff99"></div>
<div class="a" style="left:482px;top:400px;width:29px;height:13px;background:#ccffcc"></div>
<div class="a" style="left:511px;top:400px;width:28px;height:13px;background:#ccffcc"></div>
<div class="a" style="left:539px;top:400px;width:29px;height:13px;background:#ccffcc"></div>
<div class="a" style="left:568px;top:400px;width:28px;height:13px;background:#ccffcc"></div>
<div class="a" style="left:138px;top:413px;width:29px;height:12px;background:#ffff99"></div>
<div class="a" style="left:167px;top:413px;width:28px;height:12px;background:#ffff99"></div>
<div class="a" style="left:195px;top:413px;width:29px;height:12px;background:#ffff99"></div>
<div class="a" style="left:224px;top:413px;width:29px;height:12px;background:#ffff99"></div>
<div class="a" style="left:253px;top:413px;width:28px;height:12px;background:#ccffcc"></div>
<div class="a" style="left:281px;top:413px;width:29px;height:12px;background:#ccffcc"></div>
<div class="a" style="left:310px;top:413px;width:29px;height:12px;background:#ccffcc"></div>
<div class="a" style="left:339px;top:413px;width:28px;height:12px;background:#ccffcc"></div>
<div class="a" style="left:367px;top:413px;width:29px;height:12px;background:#ccffff"></div>
<div class="a" style="left:396px;top:413px;width:29px;height:12px;background:#cc99ff"></div>
<div class="a" style="left:425px;top:413px;width:28px;height:12px;background:#cc99ff"></div>
<div class="a" style="left:453px;top:413px;width:29px;height:12px;background:#ff99cc"></div>
<div class="a" style="left:482px;top:413px;width:29px;height:12px;background:#ff0000"></div>
<div class="a" style="left:511px;top:413px;width:28px;height:12px;background:#ff0000"></div>
<div class="a" style="left:539px;top:413px;width:29px;height:12px;background:#ff0000"></div>
<div class="a" style="left:568px;top:413px;width:28px;height:12px;background:#ff0000"></div>
<div class="a" style="left:138px;top:425px;width:29px;height:13px;background:#ffff99"></div>
<div class="a" style="left:167px;top:425px;width:28px;height:13px;background:#ffff99"></div>
<div class="a" style="left:195px;top:425px;width:29px;height:13px;background:#ffff99"></div>
<div class="a" style="left:224px;top:425px;width:29px;height:13px;background:#ccffcc"></div>
<div class="a" style="left:253px;top:425px;width:28px;height:13px;background:#ccffcc"></div>
<div class="a" style="left:281px;top:425px;width:29px;height:13px;background:#ccffcc"></div>
<div class="a" style="left:310px;top:425px;width:29px;height:13px;background:#ccffcc"></div>
<div class="a" style="left:339px;top:425px;width:28px;height:13px;background:#ccffcc"></div>
<div class="a" style="left:367px;top:425px;width:29px;height:13px;background:#ccffff"></div>
<div class="a" style="left:396px;top:425px;width:29px;height:13px;background:#ccffff"></div>
<div class="a" style="left:425px;top:425px;width:28px;height:13px;background:#cc99ff"></div>
<div class="a" style="left:453px;top:425px;width:29px;height:13px;background:#cc99ff"></div>
<div class="a" style="left:482px;top:425px;width:29px;height:13px;background:#ff99cc"></div>
<div class="a" style="left:511px;top:425px;width:28px;height:13px;background:#ff99cc"></div>
<div class="a" style="left:539px;top:425px;width:29px;height:13px;background:#ff0000"></div>
<div class="a" style="left:568px;top:425px;width:28px;height:13px;background:#ff0000"></div>
<div class="a" style="left:138px;top:438px;width:29px;height:12px;background:#ffff99"></div>
<div class="a" style="left:167px;top:438px;width:28px;height:12px;background:#ffff99"></div>
<div class="a" style="left:195px;top:438px;width:29px;height:12px;background:#ffff99"></div>
<div class="a" style="left:224px;top:438px;width:29px;height:12px;background:#ffff99"></div>
<div class="a" style="left:253px;top:438px;width:28px;height:12px;background:#ffff99"></div>
<div class="a" style="left:281px;top:438px;width:29px;height:12px;background:#ffff99"></div>
<div class="a" style="left:310px;top:438px;width:29px;height:12px;background:#ffff99"></div>
<div class="a" style="left:339px;top:438px;width:28px;height:12px;background:#ffff99"></div>
<div class="a" style="left:367px;top:438px;width:29px;height:12px;background:#ffff99"></div>
<div class="a" style="left:396px;top:438px;width:29px;height:12px;background:#ccffcc"></div>
<div class="a" style="left:425px;top:438px;width:28px;height:12px;background:#ccffcc"></div>
<div class="a" style="left:453px;top:438px;width:29px;height:12px;background:#ccffcc"></div>
<div class="a" style="left:482px;top:438px;width:29px;height:12px;background:#ccffcc"></div>
<div class="a" style="left:511px;top:438px;width:28px;height:12px;background:#ccffcc"></div>
<div class="a" style="left:539px;top:438px;width:29px;height:12px;background:#ccffff"></div>
<div class="a" style="left:568px;top:438px;width:28px;height:12px;background:#ccffff"></div>
<div class="a" style="left:138px;top:450px;width:29px;height:12px;background:#ffff99"></div>
<div class="a" style="left:167px;top:450px;width:28px;height:12px;background:#ffff99"></div>
<div class="a" style="left:195px;top:450px;width:29px;height:12px;background:#ffff99"></div>
<div class="a" style="left:224px;top:450px;width:29px;height:12px;background:#ffff99"></div>
<div class="a" style="left:253px;top:450px;width:28px;height:12px;background:#ffff99"></div>
<div class="a" style="left:281px;top:450px;width:29px;height:12px;background:#ffff99"></div>
<div class="a" style="left:310px;top:450px;width:29px;height:12px;background:#ccffcc"></div>
<div class="a" style="left:339px;top:450px;width:28px;height:12px;background:#ccffcc"></div>
<div class="a" style="left:367px;top:450px;width:29px;height:12px;background:#ccffcc"></div>
<div class="a" style="left:396px;top:450px;width:29px;height:12px;background:#ccffff"></div>
<div class="a" style="left:425px;top:450px;width:28px;height:12px;background:#ccffff"></div>
<div class="a" style="left:453px;top:450px;width:29px;height:12px;background:#cc99ff"></div>
<div class="a" style="left:482px;top:450px;width:29px;height:12px;background:#cc99ff"></div>
<div class="a" style="left:511px;top:450px;width:28px;height:12px;background:#ff99cc"></div>
<div class="a" style="left:539px;top:450px;width:29px;height:12px;background:#ff0000"></div>
<div class="a" style="left:568px;top:450px;width:28px;height:12px;background:#ff0000"></div>
<div class="l" style="left:30px;top:39px;width:567px;height:1.3px"></div>
<div class="l" style="left:30px;top:53px;width:567px;height:1.3px"></div>
<div class="l" style="left:30px;top:66px;width:567px;height:1px"></div>
<div class="l" style="left:30px;top:78px;width:567px;height:1px"></div>
<div class="l" style="left:30px;top:91px;width:567px;height:1px"></div>
<div class="l" style="left:30px;top:103px;width:567px;height:1px"></div>
<div class="l" style="left:30px;top:114.5px;width:567px;height:2px"></div>
<div class="l" style="left:30px;top:128px;width:567px;height:1px"></div>
<div class="l" style="left:30px;top:140px;width:567px;height:1px"></div>
<div class="l" style="left:30px;top:152px;width:567px;height:1px"></div>
<div class="l" style="left:30px;top:165px;width:567px;height:1.4px"></div>
<div class="l" style="left:30px;top:178px;width:567px;height:1px"></div>
<div class="l" style="left:30px;top:190px;width:567px;height:1px"></div>
<div class="l" style="left:30px;top:202px;width:567px;height:1px"></div>
<div class="l" style="left:30px;top:215px;width:567px;height:1px"></div>
<div class="l" style="left:30px;top:227px;width:567px;height:1px"></div>
<div class="l" style="left:30px;top:240px;width:567px;height:1px"></div>
<div class="l" style="left:30px;top:252px;width:567px;height:1px"></div>
<div class="l" style="left:30px;top:264px;width:567px;height:1.4px"></div>
<div class="l" style="left:30px;top:277px;width:567px;height:1px"></div>
<div class="l" style="left:30px;top:289px;width:567px;height:1px"></div>
<div class="l" style="left:30px;top:302px;width:567px;height:1px"></div>
<div class="l" style="left:30px;top:314px;width:567px;height:1px"></div>
<div class="l" style="left:30px;top:326px;width:567px;height:1px"></div>
<div class="l" style="left:30px;top:339px;width:567px;height:1px"></div>
<div class="l" style="left:30px;top:351px;width:567px;height:1px"></div>
<div class="l" style="left:30px;top:363px;width:567px;height:1px"></div>
<div class="l" style="left:30px;top:376px;width:567px;height:1px"></div>
<div class="l" style="left:30px;top:388px;width:567px;height:1px"></div>
<div class="l" style="left:30px;top:400px;width:567px;height:1px"></div>
<div class="l" style="left:30px;top:413px;width:567px;height:1px"></div>
<div class="l" style="left:30px;top:425px;width:567px;height:1px"></div>
<div class="l" style="left:30px;top:438px;width:567px;height:1px"></div>
<div class="l" style="left:30px;top:450px;width:567px;height:1px"></div>
<div class="l" style="left:30px;top:462px;width:567px;height:1.2px"></div>
<div class="l" style="left:30px;top:39px;width:1.4px;height:424.2px"></div>
<div class="l" style="left:596px;top:39px;width:1.4px;height:424.2px"></div>
<div class="l" style="left:138px;top:54px;width:1px;height:409px"></div>
<div class="l" style="left:167px;top:54px;width:1px;height:409px"></div>
<div class="l" style="left:195px;top:54px;width:1px;height:409px"></div>
<div class="l" style="left:224px;top:54px;width:1px;height:409px"></div>
<div class="l" style="left:253px;top:54px;width:1px;height:409px"></div>
<div class="l" style="left:281px;top:54px;width:1px;height:409px"></div>
<div class="l" style="left:310px;top:54px;width:1px;height:409px"></div>
<div class="l" style="left:339px;top:54px;width:1px;height:409px"></div>
<div class="l" style="left:367px;top:54px;width:1.4px;height:409px"></div>
<div class="l" style="left:396px;top:54px;width:1px;height:409px"></div>
<div class="l" style="left:425px;top:54px;width:1px;height:409px"></div>
<div class="l" style="left:453px;top:54px;width:1px;height:409px"></div>
<div class="l" style="left:482px;top:54px;width:1px;height:409px"></div>
<div class="l" style="left:511px;top:54px;width:1px;height:409px"></div>
<div class="l" style="left:539px;top:54px;width:1px;height:409px"></div>
<div class="l" style="left:568px;top:54px;width:1px;height:409px"></div>
<div class="c" style="left:139px;top:68.6px;width:28px;line-height:12px">0.5</div>
<div class="c" style="left:168px;top:68.6px;width:27px;line-height:12px">0.8</div>
<div class="c" style="left:196px;top:68.6px;width:28px;line-height:12px">1.1</div>
<div class="c" style="left:225px;top:68.6px;width:28px;line-height:12px">1.5</div>
<div class="c" style="left:254px;top:68.6px;width:27px;line-height:12px">2.1</div>
<div class="c" style="left:282px;top:68.6px;width:28px;line-height:12px">2.8</div>
<div class="c" style="left:311px;top:68.6px;width:28px;line-height:12px">3.7</div>
<div class="c" style="left:340px;top:68.6px;width:27px;line-height:12px">4.7</div>
<div class="c" style="left:368px;top:68.6px;width:28px;line-height:12px">6.1</div>
<div class="c" style="left:397px;top:68.6px;width:28px;line-height:12px">7.7</div>
<div class="c" style="left:426px;top:68.6px;width:27px;line-height:12px">9.5</div>
<div class="c" style="left:454px;top:68.6px;width:28px;line-height:12px">11.7</div>
<div class="c" style="left:483px;top:68.6px;width:28px;line-height:12px">14.2</div>
<div class="c" style="left:512px;top:68.6px;width:27px;line-height:12px">17.1</div>
<div class="c" style="left:540px;top:68.6px;width:28px;line-height:12px">20.4</div>
<div class="c" style="left:569px;top:68.6px;width:27px;line-height:12px">24.1</div>
<div class="n" style="left:32.5px;top:68.4px;line-height:12px">1 Butanol</div>
<div class="c" style="left:139px;top:80.6px;width:28px;line-height:13px">1.2</div>
<div class="c" style="left:168px;top:80.6px;width:27px;line-height:13px">1.6</div>
<div class="c" style="left:196px;top:80.6px;width:28px;line-height:13px">2.3</div>
<div class="c" style="left:225px;top:80.6px;width:28px;line-height:13px">3.2</div>
<div class="c" style="left:254px;top:80.6px;width:27px;line-height:13px">4.1</div>
<div class="c" style="left:282px;top:80.6px;width:28px;line-height:13px">5.4</div>
<div class="c" style="left:311px;top:80.6px;width:28px;line-height:13px">7.0</div>
<div class="c" style="left:340px;top:80.6px;width:27px;line-height:13px">9.0</div>
<div class="c" style="left:368px;top:80.6px;width:28px;line-height:13px">11.3</div>
<div class="c" style="left:397px;top:80.6px;width:28px;line-height:13px">14.0</div>
<div class="c" style="left:426px;top:80.6px;width:27px;line-height:13px">17.2</div>
<div class="c" style="left:454px;top:80.6px;width:28px;line-height:13px">20.9</div>
<div class="c" style="left:483px;top:80.6px;width:28px;line-height:13px">25.2</div>
<div class="c" style="left:512px;top:80.6px;width:27px;line-height:13px">30.0</div>
<div class="c" style="left:540px;top:80.6px;width:28px;line-height:13px">35.5</div>
<div class="c" style="left:569px;top:80.6px;width:27px;line-height:13px">41.7</div>
<div class="n" style="left:32.5px;top:80.4px;line-height:13px">1 Propanol</div>
<div class="c" style="left:139px;top:93.6px;width:28px;line-height:12px">0.6</div>
<div class="c" style="left:168px;top:93.6px;width:27px;line-height:12px">0.8</div>
<div class="c" style="left:196px;top:93.6px;width:28px;line-height:12px">1.1</div>
<div class="c" style="left:225px;top:93.6px;width:28px;line-height:12px">1.4</div>
<div class="c" style="left:254px;top:93.6px;width:27px;line-height:12px">1.9</div>
<div class="c" style="left:282px;top:93.6px;width:28px;line-height:12px">2.5</div>
<div class="c" style="left:311px;top:93.6px;width:28px;line-height:12px">3.2</div>
<div class="c" style="left:340px;top:93.6px;width:27px;line-height:12px">4.1</div>
<div class="c" style="left:368px;top:93.6px;width:28px;line-height:12px">5.1</div>
<div class="c" style="left:397px;top:93.6px;width:28px;line-height:12px">6.3</div>
<div class="c" style="left:426px;top:93.6px;width:27px;line-height:12px">7.8</div>
<div class="c" style="left:454px;top:93.6px;width:28px;line-height:12px">9.5</div>
<div class="c" style="left:483px;top:93.6px;width:28px;line-height:12px">11.4</div>
<div class="c" style="left:512px;top:93.6px;width:27px;line-height:12px">13.7</div>
<div class="c" style="left:540px;top:93.6px;width:28px;line-height:12px">16.3</div>
<div class="c" style="left:569px;top:93.6px;width:27px;line-height:12px">19.2</div>
<div class="n" style="left:32.5px;top:93.4px;line-height:12px">Acetic Acid</div>
<div class="c" style="left:139px;top:105.6px;width:28px;line-height:12px">3.7</div>
<div class="c" style="left:168px;top:105.6px;width:27px;line-height:12px">4.8</div>
<div class="c" style="left:196px;top:105.6px;width:28px;line-height:12px">6.1</div>
<div class="c" style="left:225px;top:105.6px;width:28px;line-height:12px">7.6</div>
<div class="c" style="left:254px;top:105.6px;width:27px;line-height:12px">9.5</div>
<div class="c" style="left:282px;top:105.6px;width:28px;line-height:12px">11.6</div>
<div class="c" style="left:311px;top:105.6px;width:28px;line-height:12px">14.1</div>
<div class="c" style="left:340px;top:105.6px;width:27px;line-height:12px">16.9</div>
<div class="c" style="left:368px;top:105.6px;width:28px;line-height:12px">20.1</div>
<div class="c" style="left:397px;top:105.6px;width:28px;line-height:12px">23.8</div>
<div class="c" style="left:426px;top:105.6px;width:27px;line-height:12px">27.9</div>
<div class="c" style="left:454px;top:105.6px;width:28px;line-height:12px">32.5</div>
<div class="c" style="left:483px;top:105.6px;width:28px;line-height:12px">37.6</div>
<div class="c" style="left:512px;top:105.6px;width:27px;line-height:12px">43.2</div>
<div class="c" style="left:540px;top:105.6px;width:28px;line-height:12px">49.4</div>
<div class="c" style="left:569px;top:105.6px;width:27px;line-height:12px">56.2</div>
<div class="n" style="left:32.5px;top:105.4px;line-height:12px">Acetone</div>
<div class="c" style="left:139px;top:117.6px;width:28px;line-height:13px">2.0</div>
<div class="c" style="left:168px;top:117.6px;width:27px;line-height:13px">2.7</div>
<div class="c" style="left:196px;top:117.6px;width:28px;line-height:13px">3.7</div>
<div class="c" style="left:225px;top:117.6px;width:28px;line-height:13px">4.8</div>
<div class="c" style="left:254px;top:117.6px;width:27px;line-height:13px">6.3</div>
<div class="c" style="left:282px;top:117.6px;width:28px;line-height:13px">8.1</div>
<div class="c" style="left:311px;top:117.6px;width:28px;line-height:13px">10.3</div>
<div class="c" style="left:340px;top:117.6px;width:27px;line-height:13px">13.0</div>
<div class="c" style="left:368px;top:117.6px;width:28px;line-height:13px">16.3</div>
<div class="c" style="left:397px;top:117.6px;width:28px;line-height:13px">20.2</div>
<div class="c" style="left:426px;top:117.6px;width:27px;line-height:13px">24.8</div>
<div class="c" style="left:454px;top:117.6px;width:28px;line-height:13px">30.2</div>
<div class="c" style="left:483px;top:117.6px;width:28px;line-height:13px">36.6</div>
<div class="c" style="left:512px;top:117.6px;width:27px;line-height:13px">44.0</div>
<div class="c" style="left:540px;top:117.6px;width:28px;line-height:13px">52.5</div>
<div class="c" style="left:569px;top:117.6px;width:27px;line-height:13px">62.3</div>
<div class="n" style="left:32.5px;top:117.4px;line-height:13px">Acetonitrile</div>
<div class="c" style="left:139px;top:130.6px;width:28px;line-height:12px">1.8</div>
<div class="c" style="left:168px;top:130.6px;width:27px;line-height:12px">2.5</div>
<div class="c" style="left:196px;top:130.6px;width:28px;line-height:12px">3.1</div>
<div class="c" style="left:225px;top:130.6px;width:28px;line-height:12px">3.9</div>
<div class="c" style="left:254px;top:130.6px;width:27px;line-height:12px">4.9</div>
<div class="c" style="left:282px;top:130.6px;width:28px;line-height:12px">5.9</div>
<div class="c" style="left:311px;top:130.6px;width:28px;line-height:12px">7.2</div>
<div class="c" style="left:340px;top:130.6px;width:27px;line-height:12px">8.6</div>
<div class="c" style="left:368px;top:130.6px;width:28px;line-height:12px">10.3</div>
<div class="c" style="left:397px;top:130.6px;width:28px;line-height:12px">12.2</div>
<div class="c" style="left:426px;top:130.6px;width:27px;line-height:12px">14.4</div>
<div class="c" style="left:454px;top:130.6px;width:28px;line-height:12px">16.9</div>
<div class="c" style="left:483px;top:130.6px;width:28px;line-height:12px">19.6</div>
<div class="c" style="left:512px;top:130.6px;width:27px;line-height:12px">22.7</div>
<div class="c" style="left:540px;top:130.6px;width:28px;line-height:12px">26.1</div>
<div class="c" style="left:569px;top:130.6px;width:27px;line-height:12px">29.9</div>
<div class="n" style="left:32.5px;top:130.4px;line-height:12px">Benzene</div>
<div class="c" style="left:139px;top:142.6px;width:28px;line-height:12px">1.9</div>
<div class="c" style="left:168px;top:142.6px;width:27px;line-height:12px">2.5</div>
<div class="c" style="left:196px;top:142.6px;width:28px;line-height:12px">3.2</div>
<div class="c" style="left:225px;top:142.6px;width:28px;line-height:12px">4.0</div>
<div class="c" style="left:254px;top:142.6px;width:27px;line-height:12px">5.0</div>
<div class="c" style="left:282px;top:142.6px;width:28px;line-height:12px">6.1</div>
<div class="c" style="left:311px;top:142.6px;width:28px;line-height:12px">7.4</div>
<div class="c" style="left:340px;top:142.6px;width:27px;line-height:12px">8.9</div>
<div class="c" style="left:368px;top:142.6px;width:28px;line-height:12px">10.5</div>
<div class="c" style="left:397px;top:142.6px;width:28px;line-height:12px">12.4</div>
<div class="c" style="left:426px;top:142.6px;width:27px;line-height:12px">14.6</div>
<div class="c" style="left:454px;top:142.6px;width:28px;line-height:12px">16.9</div>
<div class="c" style="left:483px;top:142.6px;width:28px;line-height:12px">19.6</div>
<div class="c" style="left:512px;top:142.6px;width:27px;line-height:12px">22.4</div>
<div class="c" style="left:540px;top:142.6px;width:28px;line-height:12px">25.6</div>
<div class="c" style="left:569px;top:142.6px;width:27px;line-height:12px">29.0</div>
<div class="n" style="left:32.5px;top:142.4px;line-height:12px">Carbon tetrachloride</div>
<div class="c" style="left:139px;top:154.6px;width:28px;line-height:13px">3.1</div>
<div class="c" style="left:168px;top:154.6px;width:27px;line-height:13px">4.0</div>
<div class="c" style="left:196px;top:154.6px;width:28px;line-height:13px">5.0</div>
<div class="c" style="left:225px;top:154.6px;width:28px;line-height:13px">6.3</div>
<div class="c" style="left:254px;top:154.6px;width:27px;line-height:13px">7.8</div>
<div class="c" style="left:282px;top:154.6px;width:28px;line-height:13px">9.6</div>
<div class="c" style="left:311px;top:154.6px;width:28px;line-height:13px">11.7</div>
<div class="c" style="left:340px;top:154.6px;width:27px;line-height:13px">14.1</div>
<div class="c" style="left:368px;top:154.6px;width:28px;line-height:13px">16.8</div>
<div class="c" style="left:397px;top:154.6px;width:28px;line-height:13px">19.9</div>
<div class="c" style="left:426px;top:154.6px;width:27px;line-height:13px">23.4</div>
<div class="c" style="left:454px;top:154.6px;width:28px;line-height:13px">27.3</div>
<div class="c" style="left:483px;top:154.6px;width:28px;line-height:13px">31.7</div>
<div class="c" style="left:512px;top:154.6px;width:27px;line-height:13px">36.6</div>
<div class="c" style="left:540px;top:154.6px;width:28px;line-height:13px">42.0</div>
<div class="c" style="left:569px;top:154.6px;width:27px;line-height:13px">47.9</div>
<div class="n" style="left:32.5px;top:154.4px;line-height:13px">Chloroform</div>
<div class="c" style="left:139px;top:167.6px;width:28px;line-height:13px">1.7</div>
<div class="c" style="left:168px;top:167.6px;width:27px;line-height:13px">2.2</div>
<div class="c" style="left:196px;top:167.6px;width:28px;line-height:13px">2.9</div>
<div class="c" style="left:225px;top:167.6px;width:28px;line-height:13px">3.6</div>
<div class="c" style="left:254px;top:167.6px;width:27px;line-height:13px">4.5</div>
<div class="c" style="left:282px;top:167.6px;width:28px;line-height:13px">5.5</div>
<div class="c" style="left:311px;top:167.6px;width:28px;line-height:13px">6.7</div>
<div class="c" style="left:340px;top:167.6px;width:27px;line-height:13px">8.1</div>
<div class="c" style="left:368px;top:167.6px;width:28px;line-height:13px">9.7</div>
<div class="c" style="left:397px;top:167.6px;width:28px;line-height:13px">11.5</div>
<div class="c" style="left:426px;top:167.6px;width:27px;line-height:13px">13.5</div>
<div class="c" style="left:454px;top:167.6px;width:28px;line-height:13px">15.7</div>
<div class="c" style="left:483px;top:167.6px;width:28px;line-height:13px">18.3</div>
<div class="c" style="left:512px;top:167.6px;width:27px;line-height:13px">21.0</div>
<div class="c" style="left:540px;top:167.6px;width:28px;line-height:13px">24.1</div>
<div class="c" style="left:569px;top:167.6px;width:27px;line-height:13px">27.5</div>
<div class="n" style="left:32.5px;top:167.4px;line-height:13px">Cyclohexane</div>
<div class="c" style="left:139px;top:180.6px;width:28px;line-height:12px">5.9</div>
<div class="c" style="left:168px;top:180.6px;width:27px;line-height:12px">7.5</div>
<div class="c" style="left:196px;top:180.6px;width:28px;line-height:12px">9.4</div>
<div class="c" style="left:225px;top:180.6px;width:28px;line-height:12px">11.7</div>
<div class="c" style="left:254px;top:180.6px;width:27px;line-height:12px">14.3</div>
<div class="c" style="left:282px;top:180.6px;width:28px;line-height:12px">17.4</div>
<div class="c" style="left:311px;top:180.6px;width:28px;line-height:12px">20.9</div>
<div class="c" style="left:340px;top:180.6px;width:27px;line-height:12px">24.9</div>
<div class="c" style="left:368px;top:180.6px;width:28px;line-height:12px">29.4</div>
<div class="c" style="left:397px;top:180.6px;width:28px;line-height:12px">34.5</div>
<div class="c" style="left:426px;top:180.6px;width:27px;line-height:12px">40.2</div>
<div class="c" style="left:454px;top:180.6px;width:28px;line-height:12px">46.5</div>
<div class="c" style="left:483px;top:180.6px;width:28px;line-height:12px">53.5</div>
<div class="c" style="left:512px;top:180.6px;width:27px;line-height:12px">61.2</div>
<div class="c" style="left:540px;top:180.6px;width:28px;line-height:12px">69.6</div>
<div class="c" style="left:569px;top:180.6px;width:27px;line-height:12px">78.7</div>
<div class="n" style="left:32.5px;top:180.4px;line-height:12px">DCM</div>
<div class="c" style="left:139px;top:192.6px;width:28px;line-height:12px">6.1</div>
<div class="c" style="left:168px;top:192.6px;width:27px;line-height:12px">7.6</div>
<div class="c" style="left:196px;top:192.6px;width:28px;line-height:12px">9.4</div>
<div class="c" style="left:225px;top:192.6px;width:28px;line-height:12px">11.5</div>
<div class="c" style="left:254px;top:192.6px;width:27px;line-height:12px">14.0</div>
<div class="c" style="left:282px;top:192.6px;width:28px;line-height:12px">16.8</div>
<div class="c" style="left:311px;top:192.6px;width:28px;line-height:12px">20.0</div>
<div class="c" style="left:340px;top:192.6px;width:27px;line-height:12px">23.6</div>
<div class="c" style="left:368px;top:192.6px;width:28px;line-height:12px">27.7</div>
<div class="c" style="left:397px;top:192.6px;width:28px;line-height:12px">32.2</div>
<div class="c" style="left:426px;top:192.6px;width:27px;line-height:12px">37.3</div>
<div class="c" style="left:454px;top:192.6px;width:28px;line-height:12px">42.9</div>
<div class="c" style="left:483px;top:192.6px;width:28px;line-height:12px">49.0</div>
<div class="c" style="left:512px;top:192.6px;width:27px;line-height:12px">55.7</div>
<div class="c" style="left:540px;top:192.6px;width:28px;line-height:12px">63.1</div>
<div class="c" style="left:569px;top:192.6px;width:27px;line-height:12px">71.0</div>
<div class="n" style="left:32.5px;top:192.4px;line-height:12px">Di ethyl ether</div>
<div class="c" style="left:139px;top:204.6px;width:28px;line-height:13px">0.1</div>
<div class="c" style="left:168px;top:204.6px;width:27px;line-height:13px">0.2</div>
<div class="c" style="left:196px;top:204.6px;width:28px;line-height:13px">0.3</div>
<div class="c" style="left:225px;top:204.6px;width:28px;line-height:13px">0.4</div>
<div class="c" style="left:254px;top:204.6px;width:27px;line-height:13px">0.6</div>
<div class="c" style="left:282px;top:204.6px;width:28px;line-height:13px">0.8</div>
<div class="c" style="left:311px;top:204.6px;width:28px;line-height:13px">1.0</div>
<div class="c" style="left:340px;top:204.6px;width:27px;line-height:13px">1.3</div>
<div class="c" style="left:368px;top:204.6px;width:28px;line-height:13px">1.7</div>
<div class="c" style="left:397px;top:204.6px;width:28px;line-height:13px">2.2</div>
<div class="c" style="left:426px;top:204.6px;width:27px;line-height:13px">2.8</div>
<div class="c" style="left:454px;top:204.6px;width:28px;line-height:13px">3.6</div>
<div class="c" style="left:483px;top:204.6px;width:28px;line-height:13px">4.4</div>
<div class="c" style="left:512px;top:204.6px;width:27px;line-height:13px">5.5</div>
<div class="c" style="left:540px;top:204.6px;width:28px;line-height:13px">6.7</div>
<div class="c" style="left:569px;top:204.6px;width:27px;line-height:13px">8.1</div>
<div class="n" style="left:32.5px;top:204.4px;line-height:13px">Diglyme</div>
<div class="c" style="left:139px;top:217.6px;width:28px;line-height:12px">1.0</div>
<div class="c" style="left:168px;top:217.6px;width:27px;line-height:12px">1.3</div>
<div class="c" style="left:196px;top:217.6px;width:28px;line-height:12px">1.7</div>
<div class="c" style="left:225px;top:217.6px;width:28px;line-height:12px">2.3</div>
<div class="c" style="left:254px;top:217.6px;width:27px;line-height:12px">2.9</div>
<div class="c" style="left:282px;top:217.6px;width:28px;line-height:12px">3.7</div>
<div class="c" style="left:311px;top:217.6px;width:28px;line-height:12px">4.7</div>
<div class="c" style="left:340px;top:217.6px;width:27px;line-height:12px">5.9</div>
<div class="c" style="left:368px;top:217.6px;width:28px;line-height:12px">7.2</div>
<div class="c" style="left:397px;top:217.6px;width:28px;line-height:12px">8.8</div>
<div class="c" style="left:426px;top:217.6px;width:27px;line-height:12px">10.6</div>
<div class="c" style="left:454px;top:217.6px;width:28px;line-height:12px">12.7</div>
<div class="c" style="left:483px;top:217.6px;width:28px;line-height:12px">15.2</div>
<div class="c" style="left:512px;top:217.6px;width:27px;line-height:12px">17.9</div>
<div class="c" style="left:540px;top:217.6px;width:28px;line-height:12px">21.0</div>
<div class="c" style="left:569px;top:217.6px;width:27px;line-height:12px">24.4</div>
<div class="n" style="left:32.5px;top:217.4px;line-height:12px">Dioxane</div>
<div class="c" style="left:139px;top:229.6px;width:28px;line-height:13px">1.2</div>
<div class="c" style="left:168px;top:229.6px;width:27px;line-height:13px">1.6</div>
<div class="c" style="left:196px;top:229.6px;width:28px;line-height:13px">2.0</div>
<div class="c" style="left:225px;top:229.6px;width:28px;line-height:13px">2.5</div>
<div class="c" style="left:254px;top:229.6px;width:27px;line-height:13px">3.0</div>
<div class="c" style="left:282px;top:229.6px;width:28px;line-height:13px">3.7</div>
<div class="c" style="left:311px;top:229.6px;width:28px;line-height:13px">4.5</div>
<div class="c" style="left:340px;top:229.6px;width:27px;line-height:13px">5.4</div>
<div class="c" style="left:368px;top:229.6px;width:28px;line-height:13px">6.4</div>
<div class="c" style="left:397px;top:229.6px;width:28px;line-height:13px">7.5</div>
<div class="c" style="left:426px;top:229.6px;width:27px;line-height:13px">8.8</div>
<div class="c" style="left:454px;top:229.6px;width:28px;line-height:13px">10.2</div>
<div class="c" style="left:483px;top:229.6px;width:28px;line-height:13px">11.8</div>
<div class="c" style="left:512px;top:229.6px;width:27px;line-height:13px">13.5</div>
<div class="c" style="left:540px;top:229.6px;width:28px;line-height:13px">15.4</div>
<div class="c" style="left:569px;top:229.6px;width:27px;line-height:13px">17.5</div>
<div class="n" style="left:32.5px;top:229.4px;line-height:13px">DME</div>
<div class="c" style="left:139px;top:242.6px;width:28px;line-height:12px">0.2</div>
<div class="c" style="left:168px;top:242.6px;width:27px;line-height:12px">0.3</div>
<div class="c" style="left:196px;top:242.6px;width:28px;line-height:12px">0.4</div>
<div class="c" style="left:225px;top:242.6px;width:28px;line-height:12px">0.6</div>
<div class="c" style="left:254px;top:242.6px;width:27px;line-height:12px">0.8</div>
<div class="c" style="left:282px;top:242.6px;width:28px;line-height:12px">1.0</div>
<div class="c" style="left:311px;top:242.6px;width:28px;line-height:12px">1.3</div>
<div class="c" style="left:340px;top:242.6px;width:27px;line-height:12px">1.7</div>
<div class="c" style="left:368px;top:242.6px;width:28px;line-height:12px">2.1</div>
<div class="c" style="left:397px;top:242.6px;width:28px;line-height:12px">2.6</div>
<div class="c" style="left:426px;top:242.6px;width:27px;line-height:12px">3.2</div>
<div class="c" style="left:454px;top:242.6px;width:28px;line-height:12px">3.9</div>
<div class="c" style="left:483px;top:242.6px;width:28px;line-height:12px">4.7</div>
<div class="c" style="left:512px;top:242.6px;width:27px;line-height:12px">5.6</div>
<div class="c" style="left:540px;top:242.6px;width:28px;line-height:12px">6.6</div>
<div class="c" style="left:569px;top:242.6px;width:27px;line-height:12px">7.8</div>
<div class="n" style="left:32.5px;top:242.4px;line-height:12px">DMF</div>
<div class="c" style="left:139px;top:254.6px;width:28px;line-height:12px">0.1</div>
<div class="c" style="left:168px;top:254.6px;width:27px;line-height:12px">0.1</div>
<div class="c" style="left:196px;top:254.6px;width:28px;line-height:12px">0.1</div>
<div class="c" style="left:225px;top:254.6px;width:28px;line-height:12px">0.2</div>
<div class="c" style="left:254px;top:254.6px;width:27px;line-height:12px">0.2</div>
<div class="c" style="left:282px;top:254.6px;width:28px;line-height:12px">0.3</div>
<div class="c" style="left:311px;top:254.6px;width:28px;line-height:12px">0.4</div>
<div class="c" style="left:340px;top:254.6px;width:27px;line-height:12px">0.7</div>
<div class="c" style="left:368px;top:254.6px;width:28px;line-height:12px">0.9</div>
<div class="c" style="left:397px;top:254.6px;width:28px;line-height:12px">1.2</div>
<div class="c" style="left:426px;top:254.6px;width:27px;line-height:12px">1.5</div>
<div class="c" style="left:454px;top:254.6px;width:28px;line-height:12px">2.0</div>
<div class="c" style="left:483px;top:254.6px;width:28px;line-height:12px">2.5</div>
<div class="c" style="left:512px;top:254.6px;width:27px;line-height:12px">3.2</div>
<div class="c" style="left:540px;top:254.6px;width:28px;line-height:12px">4.0</div>
<div class="c" style="left:569px;top:254.6px;width:27px;line-height:12px">5.0</div>
<div class="n" style="left:32.5px;top:254.4px;line-height:12px">DMSO</div>
<div class="c" style="left:139px;top:266.6px;width:28px;line-height:13px">2.1</div>
<div class="c" style="left:168px;top:266.6px;width:27px;line-height:13px">2.9</div>
<div class="c" style="left:196px;top:266.6px;width:28px;line-height:13px">4.0</div>
<div class="c" style="left:225px;top:266.6px;width:28px;line-height:13px">5.3</div>
<div class="c" style="left:254px;top:266.6px;width:27px;line-height:13px">7.0</div>
<div class="c" style="left:282px;top:266.6px;width:28px;line-height:13px">9.1</div>
<div class="c" style="left:311px;top:266.6px;width:28px;line-height:13px">11.6</div>
<div class="c" style="left:340px;top:266.6px;width:27px;line-height:13px">14.7</div>
<div class="c" style="left:368px;top:266.6px;width:28px;line-height:13px">18.3</div>
<div class="c" style="left:397px;top:266.6px;width:28px;line-height:13px">22.6</div>
<div class="c" style="left:426px;top:266.6px;width:27px;line-height:13px">27.6</div>
<div class="c" style="left:454px;top:266.6px;width:28px;line-height:13px">33.4</div>
<div class="c" style="left:483px;top:266.6px;width:28px;line-height:13px">40.1</div>
<div class="c" style="left:512px;top:266.6px;width:27px;line-height:13px">47.7</div>
<div class="c" style="left:540px;top:266.6px;width:28px;line-height:13px">56.3</div>
<div class="c" style="left:569px;top:266.6px;width:27px;line-height:13px">65.9</div>
<div class="n" style="left:32.5px;top:266.4px;line-height:13px">Ethanol</div>
<div class="c" style="left:139px;top:279.6px;width:28px;line-height:12px">6.1</div>
<div class="c" style="left:168px;top:279.6px;width:27px;line-height:12px">7.6</div>
<div class="c" style="left:196px;top:279.6px;width:28px;line-height:12px">9.4</div>
<div class="c" style="left:225px;top:279.6px;width:28px;line-height:12px">11.5</div>
<div class="c" style="left:254px;top:279.6px;width:27px;line-height:12px">14.0</div>
<div class="c" style="left:282px;top:279.6px;width:28px;line-height:12px">16.8</div>
<div class="c" style="left:311px;top:279.6px;width:28px;line-height:12px">20.0</div>
<div class="c" style="left:340px;top:279.6px;width:27px;line-height:12px">23.6</div>
<div class="c" style="left:368px;top:279.6px;width:28px;line-height:12px">27.7</div>
<div class="c" style="left:397px;top:279.6px;width:28px;line-height:12px">32.2</div>
<div class="c" style="left:426px;top:279.6px;width:27px;line-height:12px">37.3</div>
<div class="c" style="left:454px;top:279.6px;width:28px;line-height:12px">42.9</div>
<div class="c" style="left:483px;top:279.6px;width:28px;line-height:12px">49.0</div>
<div class="c" style="left:512px;top:279.6px;width:27px;line-height:12px">55.7</div>
<div class="c" style="left:540px;top:279.6px;width:28px;line-height:12px">63.1</div>
<div class="c" style="left:569px;top:279.6px;width:27px;line-height:12px">71.0</div>
<div class="n" style="left:32.5px;top:279.4px;line-height:12px">Ether</div>
<div class="c" style="left:139px;top:291.6px;width:28px;line-height:13px">2.0</div>
<div class="c" style="left:168px;top:291.6px;width:27px;line-height:13px">2.7</div>
<div class="c" style="left:196px;top:291.6px;width:28px;line-height:13px">3.5</div>
<div class="c" style="left:225px;top:291.6px;width:28px;line-height:13px">4.4</div>
<div class="c" style="left:254px;top:291.6px;width:27px;line-height:13px">5.6</div>
<div class="c" style="left:282px;top:291.6px;width:28px;line-height:13px">6.9</div>
<div class="c" style="left:311px;top:291.6px;width:28px;line-height:13px">8.5</div>
<div class="c" style="left:340px;top:291.6px;width:27px;line-height:13px">10.4</div>
<div class="c" style="left:368px;top:291.6px;width:28px;line-height:13px">12.5</div>
<div class="c" style="left:397px;top:291.6px;width:28px;line-height:13px">14.9</div>
<div class="c" style="left:426px;top:291.6px;width:27px;line-height:13px">17.6</div>
<div class="c" style="left:454px;top:291.6px;width:28px;line-height:13px">20.7</div>
<div class="c" style="left:483px;top:291.6px;width:28px;line-height:13px">24.1</div>
<div class="c" style="left:512px;top:291.6px;width:27px;line-height:13px">27.9</div>
<div class="c" style="left:540px;top:291.6px;width:28px;line-height:13px">32.1</div>
<div class="c" style="left:569px;top:291.6px;width:27px;line-height:13px">36.8</div>
<div class="n" style="left:32.5px;top:291.4px;line-height:13px">Ethyl Acetate</div>
<div class="c" style="left:139px;top:304.6px;width:28px;line-height:12px">1.0</div>
<div class="c" style="left:168px;top:304.6px;width:27px;line-height:12px">1.3</div>
<div class="c" style="left:196px;top:304.6px;width:28px;line-height:12px">1.7</div>
<div class="c" style="left:225px;top:304.6px;width:28px;line-height:12px">2.2</div>
<div class="c" style="left:254px;top:304.6px;width:27px;line-height:12px">2.9</div>
<div class="c" style="left:282px;top:304.6px;width:28px;line-height:12px">3.6</div>
<div class="c" style="left:311px;top:304.6px;width:28px;line-height:12px">4.5</div>
<div class="c" style="left:340px;top:304.6px;width:27px;line-height:12px">5.6</div>
<div class="c" style="left:368px;top:304.6px;width:28px;line-height:12px">6.9</div>
<div class="c" style="left:397px;top:304.6px;width:28px;line-height:12px">8.3</div>
<div class="c" style="left:426px;top:304.6px;width:27px;line-height:12px">10.0</div>
<div class="c" style="left:454px;top:304.6px;width:28px;line-height:12px">11.9</div>
<div class="c" style="left:483px;top:304.6px;width:28px;line-height:12px">14.1</div>
<div class="c" style="left:512px;top:304.6px;width:27px;line-height:12px">16.6</div>
<div class="c" style="left:540px;top:304.6px;width:28px;line-height:12px">19.4</div>
<div class="c" style="left:569px;top:304.6px;width:27px;line-height:12px">22.5</div>
<div class="n" style="left:32.5px;top:304.4px;line-height:12px">Formic Acid</div>
<div class="c" style="left:139px;top:316.6px;width:28px;line-height:12px">1.2</div>
<div class="c" style="left:168px;top:316.6px;width:27px;line-height:12px">1.7</div>
<div class="c" style="left:196px;top:316.6px;width:28px;line-height:12px">2.2</div>
<div class="c" style="left:225px;top:316.6px;width:28px;line-height:12px">2.9</div>
<div class="c" style="left:254px;top:316.6px;width:27px;line-height:12px">3.8</div>
<div class="c" style="left:282px;top:316.6px;width:28px;line-height:12px">4.8</div>
<div class="c" style="left:311px;top:316.6px;width:28px;line-height:12px">6.1</div>
<div class="c" style="left:340px;top:316.6px;width:27px;line-height:12px">7.6</div>
<div class="c" style="left:368px;top:316.6px;width:28px;line-height:12px">9.5</div>
<div class="c" style="left:397px;top:316.6px;width:28px;line-height:12px">11.6</div>
<div class="c" style="left:426px;top:316.6px;width:27px;line-height:12px">14.1</div>
<div class="c" style="left:454px;top:316.6px;width:28px;line-height:12px">16.9</div>
<div class="c" style="left:483px;top:316.6px;width:28px;line-height:12px">20.2</div>
<div class="c" style="left:512px;top:316.6px;width:27px;line-height:12px">24.0</div>
<div class="c" style="left:540px;top:316.6px;width:28px;line-height:12px">28.2</div>
<div class="c" style="left:569px;top:316.6px;width:27px;line-height:12px">33.0</div>
<div class="n" style="left:32.5px;top:316.4px;line-height:12px">Heptane</div>
<div class="c" style="left:139px;top:328.6px;width:28px;line-height:13px">2.5</div>
<div class="c" style="left:168px;top:328.6px;width:27px;line-height:13px">3.1</div>
<div class="c" style="left:196px;top:328.6px;width:28px;line-height:13px">4.0</div>
<div class="c" style="left:225px;top:328.6px;width:28px;line-height:13px">5.0</div>
<div class="c" style="left:254px;top:328.6px;width:27px;line-height:13px">6.1</div>
<div class="c" style="left:282px;top:328.6px;width:28px;line-height:13px">7.4</div>
<div class="c" style="left:311px;top:328.6px;width:28px;line-height:13px">9.0</div>
<div class="c" style="left:340px;top:328.6px;width:27px;line-height:13px">10.7</div>
<div class="c" style="left:368px;top:328.6px;width:28px;line-height:13px">12.7</div>
<div class="c" style="left:397px;top:328.6px;width:28px;line-height:13px">14.9</div>
<div class="c" style="left:426px;top:328.6px;width:27px;line-height:13px">17.4</div>
<div class="c" style="left:454px;top:328.6px;width:28px;line-height:13px">20.2</div>
<div class="c" style="left:483px;top:328.6px;width:28px;line-height:13px">23.2</div>
<div class="c" style="left:512px;top:328.6px;width:27px;line-height:13px">26.5</div>
<div class="c" style="left:540px;top:328.6px;width:28px;line-height:13px">30.1</div>
<div class="c" style="left:569px;top:328.6px;width:27px;line-height:13px">34.1</div>
<div class="n" style="left:32.5px;top:328.4px;line-height:13px">Hexane</div>
<div class="c" style="left:139px;top:341.6px;width:28px;line-height:12px">2.0</div>
<div class="c" style="left:168px;top:341.6px;width:27px;line-height:12px">2.8</div>
<div class="c" style="left:196px;top:341.6px;width:28px;line-height:12px">3.8</div>
<div class="c" style="left:225px;top:341.6px;width:28px;line-height:12px">5.1</div>
<div class="c" style="left:254px;top:341.6px;width:27px;line-height:12px">6.7</div>
<div class="c" style="left:282px;top:341.6px;width:28px;line-height:12px">8.7</div>
<div class="c" style="left:311px;top:341.6px;width:28px;line-height:12px">11.0</div>
<div class="c" style="left:340px;top:341.6px;width:27px;line-height:12px">13.9</div>
<div class="c" style="left:368px;top:341.6px;width:28px;line-height:12px">17.2</div>
<div class="c" style="left:397px;top:341.6px;width:28px;line-height:12px">21.2</div>
<div class="c" style="left:426px;top:341.6px;width:27px;line-height:12px">25.7</div>
<div class="c" style="left:454px;top:341.6px;width:28px;line-height:12px">30.9</div>
<div class="c" style="left:483px;top:341.6px;width:28px;line-height:12px">36.8</div>
<div class="c" style="left:512px;top:341.6px;width:27px;line-height:12px">43.5</div>
<div class="c" style="left:540px;top:341.6px;width:28px;line-height:12px">51.0</div>
<div class="c" style="left:569px;top:341.6px;width:27px;line-height:12px">59.4</div>
<div class="n" style="left:32.5px;top:341.4px;line-height:12px">IPA</div>
<div class="c" style="left:139px;top:353.6px;width:28px;line-height:12px">1.9</div>
<div class="c" style="left:168px;top:353.6px;width:27px;line-height:12px">2.4</div>
<div class="c" style="left:196px;top:353.6px;width:28px;line-height:12px">3.1</div>
<div class="c" style="left:225px;top:353.6px;width:28px;line-height:12px">4.0</div>
<div class="c" style="left:254px;top:353.6px;width:27px;line-height:12px">4.9</div>
<div class="c" style="left:282px;top:353.6px;width:28px;line-height:12px">6.1</div>
<div class="c" style="left:311px;top:353.6px;width:28px;line-height:12px">7.5</div>
<div class="c" style="left:340px;top:353.6px;width:27px;line-height:12px">9.0</div>
<div class="c" style="left:368px;top:353.6px;width:28px;line-height:12px">10.8</div>
<div class="c" style="left:397px;top:353.6px;width:28px;line-height:12px">12.8</div>
<div class="c" style="left:426px;top:353.6px;width:27px;line-height:12px">15.1</div>
<div class="c" style="left:454px;top:353.6px;width:28px;line-height:12px">17.6</div>
<div class="c" style="left:483px;top:353.6px;width:28px;line-height:12px">20.4</div>
<div class="c" style="left:512px;top:353.6px;width:27px;line-height:12px">23.4</div>
<div class="c" style="left:540px;top:353.6px;width:28px;line-height:12px">26.8</div>
<div class="c" style="left:569px;top:353.6px;width:27px;line-height:12px">30.5</div>
<div class="n" style="left:32.5px;top:353.4px;line-height:12px">MEK</div>
<div class="c" style="left:139px;top:365.6px;width:28px;line-height:13px">3.3</div>
<div class="c" style="left:168px;top:365.6px;width:27px;line-height:13px">4.5</div>
<div class="c" style="left:196px;top:365.6px;width:28px;line-height:13px">6.0</div>
<div class="c" style="left:225px;top:365.6px;width:28px;line-height:13px">7.9</div>
<div class="c" style="left:254px;top:365.6px;width:27px;line-height:13px">10.2</div>
<div class="c" style="left:282px;top:365.6px;width:28px;line-height:13px">13.0</div>
<div class="c" style="left:311px;top:365.6px;width:28px;line-height:13px">16.5</div>
<div class="c" style="left:340px;top:365.6px;width:27px;line-height:13px">20.6</div>
<div class="c" style="left:368px;top:365.6px;width:28px;line-height:13px">25.4</div>
<div class="c" style="left:397px;top:365.6px;width:28px;line-height:13px">31.1</div>
<div class="c" style="left:426px;top:365.6px;width:27px;line-height:13px">37.7</div>
<div class="c" style="left:454px;top:365.6px;width:28px;line-height:13px">45.3</div>
<div class="c" style="left:483px;top:365.6px;width:28px;line-height:13px">54.0</div>
<div class="c" style="left:512px;top:365.6px;width:27px;line-height:13px">63.9</div>
<div class="c" style="left:540px;top:365.6px;width:28px;line-height:13px">75.1</div>
<div class="c" style="left:569px;top:365.6px;width:27px;line-height:13px">87.7</div>
<div class="n" style="left:32.5px;top:365.4px;line-height:13px">MeOH</div>
<div class="c" style="left:139px;top:378.6px;width:28px;line-height:12px">0.0</div>
<div class="c" style="left:168px;top:378.6px;width:27px;line-height:12px">0.0</div>
<div class="c" style="left:196px;top:378.6px;width:28px;line-height:12px">0.1</div>
<div class="c" style="left:225px;top:378.6px;width:28px;line-height:12px">0.1</div>
<div class="c" style="left:254px;top:378.6px;width:27px;line-height:12px">0.1</div>
<div class="c" style="left:282px;top:378.6px;width:28px;line-height:12px">0.2</div>
<div class="c" style="left:311px;top:378.6px;width:28px;line-height:12px">0.3</div>
<div class="c" style="left:340px;top:378.6px;width:27px;line-height:12px">0.4</div>
<div class="c" style="left:368px;top:378.6px;width:28px;line-height:12px">0.5</div>
<div class="c" style="left:397px;top:378.6px;width:28px;line-height:12px">0.7</div>
<div class="c" style="left:426px;top:378.6px;width:27px;line-height:12px">1.0</div>
<div class="c" style="left:454px;top:378.6px;width:28px;line-height:12px">1.2</div>
<div class="c" style="left:483px;top:378.6px;width:28px;line-height:12px">1.6</div>
<div class="c" style="left:512px;top:378.6px;width:27px;line-height:12px">2.0</div>
<div class="c" style="left:540px;top:378.6px;width:28px;line-height:12px">2.5</div>
<div class="c" style="left:569px;top:378.6px;width:27px;line-height:12px">3.1</div>
<div class="n" style="left:32.5px;top:378.4px;line-height:12px">NMP</div>
<div class="c" style="left:139px;top:390.6px;width:28px;line-height:12px">5.9</div>
<div class="c" style="left:168px;top:390.6px;width:27px;line-height:12px">7.3</div>
<div class="c" style="left:196px;top:390.6px;width:28px;line-height:12px">9.0</div>
<div class="c" style="left:225px;top:390.6px;width:28px;line-height:12px">10.9</div>
<div class="c" style="left:254px;top:390.6px;width:27px;line-height:12px">13.0</div>
<div class="c" style="left:282px;top:390.6px;width:28px;line-height:12px">15.5</div>
<div class="c" style="left:311px;top:390.6px;width:28px;line-height:12px">18.3</div>
<div class="c" style="left:340px;top:390.6px;width:27px;line-height:12px">21.4</div>
<div class="c" style="left:368px;top:390.6px;width:28px;line-height:12px">24.8</div>
<div class="c" style="left:397px;top:390.6px;width:28px;line-height:12px">28.5</div>
<div class="c" style="left:426px;top:390.6px;width:27px;line-height:12px">32.7</div>
<div class="c" style="left:454px;top:390.6px;width:28px;line-height:12px">37.2</div>
<div class="c" style="left:483px;top:390.6px;width:28px;line-height:12px">42.0</div>
<div class="c" style="left:512px;top:390.6px;width:27px;line-height:12px">47.3</div>
<div class="c" style="left:540px;top:390.6px;width:28px;line-height:12px">52.9</div>
<div class="c" style="left:569px;top:390.6px;width:27px;line-height:12px">59.0</div>
<div class="n" style="left:32.5px;top:390.4px;line-height:12px">Pentane</div>
<div class="c" style="left:139px;top:402.6px;width:28px;line-height:13px">0.3</div>
<div class="c" style="left:168px;top:402.6px;width:27px;line-height:13px">0.4</div>
<div class="c" style="left:196px;top:402.6px;width:28px;line-height:13px">0.6</div>
<div class="c" style="left:225px;top:402.6px;width:28px;line-height:13px">0.8</div>
<div class="c" style="left:254px;top:402.6px;width:27px;line-height:13px">1.1</div>
<div class="c" style="left:282px;top:402.6px;width:28px;line-height:13px">1.4</div>
<div class="c" style="left:311px;top:402.6px;width:28px;line-height:13px">1.7</div>
<div class="c" style="left:340px;top:402.6px;width:27px;line-height:13px">2.2</div>
<div class="c" style="left:368px;top:402.6px;width:28px;line-height:13px">2.7</div>
<div class="c" style="left:397px;top:402.6px;width:28px;line-height:13px">3.4</div>
<div class="c" style="left:426px;top:402.6px;width:27px;line-height:13px">4.1</div>
<div class="c" style="left:454px;top:402.6px;width:28px;line-height:13px">5.0</div>
<div class="c" style="left:483px;top:402.6px;width:28px;line-height:13px">6.0</div>
<div class="c" style="left:512px;top:402.6px;width:27px;line-height:13px">7.1</div>
<div class="c" style="left:540px;top:402.6px;width:28px;line-height:13px">8.4</div>
<div class="c" style="left:569px;top:402.6px;width:27px;line-height:13px">9.9</div>
<div class="n" style="left:32.5px;top:402.4px;line-height:13px">p-Xylene</div>
<div class="c" style="left:139px;top:415.6px;width:28px;line-height:12px">1.9</div>
<div class="c" style="left:168px;top:415.6px;width:27px;line-height:12px">2.7</div>
<div class="c" style="left:196px;top:415.6px;width:28px;line-height:12px">3.6</div>
<div class="c" style="left:225px;top:415.6px;width:28px;line-height:12px">4.8</div>
<div class="c" style="left:254px;top:415.6px;width:27px;line-height:12px">6.3</div>
<div class="c" style="left:282px;top:415.6px;width:28px;line-height:12px">8.1</div>
<div class="c" style="left:311px;top:415.6px;width:28px;line-height:12px">10.2</div>
<div class="c" style="left:340px;top:415.6px;width:27px;line-height:12px">12.7</div>
<div class="c" style="left:368px;top:415.6px;width:28px;line-height:12px">15.6</div>
<div class="c" style="left:397px;top:415.6px;width:28px;line-height:12px">19.0</div>
<div class="c" style="left:426px;top:415.6px;width:27px;line-height:12px">22.9</div>
<div class="c" style="left:454px;top:415.6px;width:28px;line-height:12px">27.3</div>
<div class="c" style="left:483px;top:415.6px;width:28px;line-height:12px">32.3</div>
<div class="c" style="left:512px;top:415.6px;width:27px;line-height:12px">37.8</div>
<div class="c" style="left:540px;top:415.6px;width:28px;line-height:12px">44.0</div>
<div class="c" style="left:569px;top:415.6px;width:27px;line-height:12px">50.8</div>
<div class="n" style="left:32.5px;top:415.4px;line-height:12px">t Butyl Alcohol</div>
<div class="c" style="left:139px;top:427.6px;width:28px;line-height:13px">2.7</div>
<div class="c" style="left:168px;top:427.6px;width:27px;line-height:13px">3.5</div>
<div class="c" style="left:196px;top:427.6px;width:28px;line-height:13px">4.4</div>
<div class="c" style="left:225px;top:427.6px;width:28px;line-height:13px">5.5</div>
<div class="c" style="left:254px;top:427.6px;width:27px;line-height:13px">6.9</div>
<div class="c" style="left:282px;top:427.6px;width:28px;line-height:13px">8.4</div>
<div class="c" style="left:311px;top:427.6px;width:28px;line-height:13px">10.1</div>
<div class="c" style="left:340px;top:427.6px;width:27px;line-height:13px">12.2</div>
<div class="c" style="left:368px;top:427.6px;width:28px;line-height:13px">14.4</div>
<div class="c" style="left:397px;top:427.6px;width:28px;line-height:13px">17.0</div>
<div class="c" style="left:426px;top:427.6px;width:27px;line-height:13px">19.9</div>
<div class="c" style="left:454px;top:427.6px;width:28px;line-height:13px">23.1</div>
<div class="c" style="left:483px;top:427.6px;width:28px;line-height:13px">26.6</div>
<div class="c" style="left:512px;top:427.6px;width:27px;line-height:13px">30.5</div>
<div class="c" style="left:540px;top:427.6px;width:28px;line-height:13px">34.7</div>
<div class="c" style="left:569px;top:427.6px;width:27px;line-height:13px">39.4</div>
<div class="n" style="left:32.5px;top:427.4px;line-height:13px">THF</div>
<div class="c" style="left:139px;top:440.6px;width:28px;line-height:12px">0.7</div>
<div class="c" style="left:168px;top:440.6px;width:27px;line-height:12px">1.0</div>
<div class="c" style="left:196px;top:440.6px;width:28px;line-height:12px">1.3</div>
<div class="c" style="left:225px;top:440.6px;width:28px;line-height:12px">1.7</div>
<div class="c" style="left:254px;top:440.6px;width:27px;line-height:12px">2.2</div>
<div class="c" style="left:282px;top:440.6px;width:28px;line-height:12px">2.7</div>
<div class="c" style="left:311px;top:440.6px;width:28px;line-height:12px">3.4</div>
<div class="c" style="left:340px;top:440.6px;width:27px;line-height:12px">4.2</div>
<div class="c" style="left:368px;top:440.6px;width:28px;line-height:12px">5.1</div>
<div class="c" style="left:397px;top:440.6px;width:28px;line-height:12px">6.2</div>
<div class="c" style="left:426px;top:440.6px;width:27px;line-height:12px">7.5</div>
<div class="c" style="left:454px;top:440.6px;width:28px;line-height:12px">8.9</div>
<div class="c" style="left:483px;top:440.6px;width:28px;line-height:12px">10.5</div>
<div class="c" style="left:512px;top:440.6px;width:27px;line-height:12px">12.3</div>
<div class="c" style="left:540px;top:440.6px;width:28px;line-height:12px">14.4</div>
<div class="c" style="left:569px;top:440.6px;width:27px;line-height:12px">16.7</div>
<div class="n" style="left:32.5px;top:440.4px;line-height:12px">Toluene</div>
<div class="c" style="left:139px;top:452.6px;width:28px;line-height:12px">1.0</div>
<div class="c" style="left:168px;top:452.6px;width:27px;line-height:12px">1.2</div>
<div class="c" style="left:196px;top:452.6px;width:28px;line-height:12px">1.8</div>
<div class="c" style="left:225px;top:452.6px;width:28px;line-height:12px">2.6</div>
<div class="c" style="left:254px;top:452.6px;width:27px;line-height:12px">3.7</div>
<div class="c" style="left:282px;top:452.6px;width:28px;line-height:12px">5.0</div>
<div class="c" style="left:311px;top:452.6px;width:28px;line-height:12px">6.6</div>
<div class="c" style="left:340px;top:452.6px;width:27px;line-height:12px">8.5</div>
<div class="c" style="left:368px;top:452.6px;width:28px;line-height:12px">10.8</div>
<div class="c" style="left:397px;top:452.6px;width:28px;line-height:12px">13.5</div>
<div class="c" style="left:426px;top:452.6px;width:27px;line-height:12px">16.5</div>
<div class="c" style="left:454px;top:452.6px;width:28px;line-height:12px">20.0</div>
<div class="c" style="left:483px;top:452.6px;width:28px;line-height:12px">23.8</div>
<div class="c" style="left:512px;top:452.6px;width:27px;line-height:12px">28.1</div>
<div class="c" style="left:540px;top:452.6px;width:28px;line-height:12px">32.8</div>
<div class="c" style="left:569px;top:452.6px;width:27px;line-height:12px">37.9</div>
<div class="n" style="left:32.5px;top:452.4px;line-height:12px">Water</div>
<div class="h" style="left:139px;top:55.5px;width:28px;line-height:11px">100</div>
<div class="h" style="left:168px;top:55.5px;width:27px;line-height:11px">110</div>
<div class="h" style="left:196px;top:55.5px;width:28px;line-height:11px">120</div>
<div class="h" style="left:225px;top:55.5px;width:28px;line-height:11px">130</div>
<div class="h" style="left:254px;top:55.5px;width:27px;line-height:11px">140</div>
<div class="h" style="left:282px;top:55.5px;width:28px;line-height:11px">150</div>
<div class="h" style="left:311px;top:55.5px;width:28px;line-height:11px">160</div>
<div class="h" style="left:340px;top:55.5px;width:27px;line-height:11px">170</div>
<div class="h" style="left:368px;top:55.5px;width:28px;line-height:11px">180</div>
<div class="h" style="left:397px;top:55.5px;width:28px;line-height:11px">190</div>
<div class="h" style="left:426px;top:55.5px;width:27px;line-height:11px">200</div>
<div class="h" style="left:454px;top:55.5px;width:28px;line-height:11px">210</div>
<div class="h" style="left:483px;top:55.5px;width:28px;line-height:11px">220</div>
<div class="h" style="left:512px;top:55.5px;width:27px;line-height:11px">230</div>
<div class="h" style="left:540px;top:55.5px;width:28px;line-height:11px">240</div>
<div class="h" style="left:569px;top:55.5px;width:27px;line-height:11px">250</div>
<div class="a" style="left:284px;top:41.4px;font-size:10.9px;font-weight:bold;color:#111;white-space:nowrap;line-height:14px">TEMPERATURE (<span style="font-size:7.5px;position:relative;top:-4.5px;font-weight:normal;-webkit-text-stroke:0.3px #111">o</span>C)</div>
<div class="a" style="left:270px;top:468.5px;z-index:5;font-size:12.6px;color:#111;white-space:nowrap;transform:scaleX(0.935);transform-origin:0 0;text-rendering:geometricPrecision;-webkit-text-stroke:0.3px #111">Vapour Pressure (bar)</div>
<div class="t" style="left:606.6px;top:48.6px;width:160px">All vapour pressures<br>shown are absolute values<br>in bar</div>
<div class="t" style="left:607.5px;top:125.8px;width:160px">Recommended back<br>pressure regulator (BPR)<br>with values shown in PSI</div>
<div class="a" style="left:623px;top:180px;width:122px;height:15px;background:#ffff99"></div>
<div class="a" style="left:623px;top:181px;width:122px;text-align:center;font-size:11px;line-height:15px;color:#1a1a1a">100</div>
<div class="a" style="left:623px;top:195px;width:122px;height:15px;background:#ccffcc"></div>
<div class="a" style="left:623px;top:196px;width:122px;text-align:center;font-size:11px;line-height:15px;color:#1a1a1a">250</div>
<div class="a" style="left:623px;top:210px;width:122px;height:15px;background:#ccffff"></div>
<div class="a" style="left:623px;top:211px;width:122px;text-align:center;font-size:11px;line-height:15px;color:#1a1a1a">350</div>
<div class="a" style="left:623px;top:225px;width:122px;height:14px;background:#cc99ff"></div>
<div class="a" style="left:623px;top:226px;width:122px;text-align:center;font-size:11px;line-height:14px;color:#1a1a1a">500</div>
<div class="a" style="left:623px;top:239px;width:122px;height:15px;background:#ff99cc"></div>
<div class="a" style="left:623px;top:240px;width:122px;text-align:center;font-size:11px;line-height:15px;color:#1a1a1a">600</div>
<div class="a" style="left:623px;top:254px;width:122px;height:14px;background:#ff0000;font-size:8.7px;line-height:14px;color:#222;padding-left:2.5px">Use high pressure system</div>
<div class="a" style="left:622px;top:179px;width:124px;height:90px;border:1px solid #444"></div>
<div class="t" style="left:606.8px;top:293.6px;width:160px">Vapourtec recommends<br>where possible using<br>several BPRs in series<br>rather than one large BPR.</div>
<div class="a" style="left:630.5px;top:390px;font-size:11.6px;line-height:18.9px;color:#111;-webkit-text-stroke:0.3px #111;white-space:nowrap">350 = 250 + 100<br>500 = 250 + 250<br>600 = 250 + 250 + 100</div>
<svg class="a" style="left:0;top:480px" width="768" height="88" viewBox="0 480 768 88">
<defs>
<linearGradient id="bg" x1="0" y1="480" x2="0" y2="568" gradientUnits="userSpaceOnUse">
<stop offset="0" stop-color="#ffffff"/>
<stop offset="0.08" stop-color="#fcfbfe"/>
<stop offset="0.16" stop-color="#ebe6f4"/>
<stop offset="0.22" stop-color="#efebf6"/>
<stop offset="0.36" stop-color="#ece8f5"/>
<stop offset="0.45" stop-color="#dcd4eb"/>
<stop offset="0.6" stop-color="#d8d0ea"/>
<stop offset="0.7" stop-color="#d3c9e6"/>
<stop offset="0.84" stop-color="#cbc0e2"/>
<stop offset="0.93" stop-color="#e6e1f1"/>
<stop offset="1" stop-color="#f4f1f9"/>
</linearGradient>
<linearGradient id="fade1" x1="0" y1="0" x2="768" y2="0" gradientUnits="userSpaceOnUse">
<stop offset="0" stop-color="#cfc5e6" stop-opacity="1"/>
<stop offset="0.3" stop-color="#cfc5e6" stop-opacity="0.15"/>
<stop offset="0.6" stop-color="#cfc5e6" stop-opacity="0.3"/>
<stop offset="1" stop-color="#cfc5e6" stop-opacity="1"/>
</linearGradient>
<linearGradient id="fade2" x1="0" y1="0" x2="768" y2="0" gradientUnits="userSpaceOnUse">
<stop offset="0" stop-color="#f8f6fb" stop-opacity="1"/>
<stop offset="0.25" stop-color="#f8f6fb" stop-opacity="0.8"/>
<stop offset="0.4" stop-color="#f8f6fb" stop-opacity="0"/>
<stop offset="0.8" stop-color="#f8f6fb" stop-opacity="0"/>
<stop offset="1" stop-color="#f8f6fb" stop-opacity="0.9"/>
</linearGradient>
<linearGradient id="fade3" x1="360" y1="0" x2="760" y2="0" gradientUnits="userSpaceOnUse">
<stop offset="0" stop-color="#f4f2f9" stop-opacity="0"/>
<stop offset="0.3" stop-color="#f4f2f9" stop-opacity="0.8"/>
<stop offset="0.75" stop-color="#f4f2f9" stop-opacity="0.8"/>
<stop offset="1" stop-color="#f4f2f9" stop-opacity="0"/>
</linearGradient>
<linearGradient id="fade4" x1="440" y1="0" x2="790" y2="0" gradientUnits="userSpaceOnUse">
<stop offset="0" stop-color="#9a86c6" stop-opacity="0"/>
<stop offset="0.3" stop-color="#9a86c6" stop-opacity="0.7"/>
<stop offset="1" stop-color="#9a86c6" stop-opacity="0.8"/>
</linearGradient>
<filter id="b2" x="-5%" y="-100%" width="110%" height="300%"><feGaussianBlur stdDeviation="2.2"/></filter>
<filter id="b1" x="-5%" y="-100%" width="110%" height="300%"><feGaussianBlur stdDeviation="1.3"/></filter>
<filter id="b0" x="-5%" y="-100%" width="110%" height="300%"><feGaussianBlur stdDeviation="0.5"/></filter>
</defs>
<rect x="0" y="480" width="768" height="88" fill="url(#bg)"/>
<g filter="url(#b2)" fill="none">
<path d="M-20 493 C 200 494, 500 493, 790 495" stroke="url(#fade1)" stroke-width="10"/>
<path d="M-20 507 C 200 508, 500 506, 790 508" stroke="url(#fade2)" stroke-width="8"/>
<path d="M200 509 C 300 510, 450 508, 650 507" stroke="#cdc2e4" stroke-width="6" opacity="0.7"/>
<path d="M-20 550 C 200 548, 500 557, 790 550" stroke="#c3b6dd" stroke-width="13" opacity="0.85"/>
<path d="M-20 566 C 150 565, 300 565, 420 568" stroke="#f6f4fa" stroke-width="12" opacity="0.9"/>
</g>
<g filter="url(#b1)" fill="none">
<path d="M-20 533 C 150 532, 300 526, 400 521 S 560 512, 790 505" stroke="#9a86c6" stroke-width="5" opacity="0.8"/>
<path d="M360 530 C 500 530, 600 529, 760 527" stroke="url(#fade3)" stroke-width="7"/>
<path d="M440 541 C 600 541, 700 540, 790 539.5" stroke="url(#fade4)" stroke-width="3"/>
<path d="M-20 545 C 200 544, 400 545, 790 546" stroke="#ece8f5" stroke-width="4" opacity="0.7"/>
</g>
<g filter="url(#b0)" fill="none">
<path d="M-20 499.5 C 100 502, 200 504.5, 300 502 S 600 501, 790 503.3" stroke="#9a89c8" stroke-width="1.6" opacity="0.8"/>
<path d="M-20 517 C 200 515, 450 514, 790 513.5" stroke="#9a89c8" stroke-width="1.5" opacity="0.65"/>
<path d="M-20 539 C 200 539, 450 540, 790 541" stroke="#a696cc" stroke-width="1" opacity="0.5"/>
<path d="M200 550 C 400 550, 550 551, 790 552" stroke="#9a89c8" stroke-width="1.2" opacity="0.6"/>
</g>
</svg>
<div class="a" style="left:26px;top:507px;font-size:34.6px;font-weight:bold;color:#000;white-space:nowrap;line-height:40px;-webkit-text-stroke:0.5px #000">www.vapourtec.com</div>
<svg class="a" style="left:0;top:480px" width="768" height="88" viewBox="0 480 768 88">
<path fill="#ff5508" d="M434.7 515.6 L440.2 515.6 L450 539.5 L459.9 515.6 L465.4 515.6 L454.3 544.8 L445.8 544.8 Z"/>
<path fill="#ff6205" d="M467.8 517.2 Q468.2 515.6 470.5 515.6 H488.5 A9 9 0 0 1 497.5 524.6 V544.8 H492.9 V524.2 A4.7 4.7 0 0 0 488.2 519.5 H471.5 Q469.2 519.5 468.3 522.5 Z"/>
<path fill="#ff6205" fill-rule="evenodd" d="M493.5 526.7 H474 A6.8 6.8 0 0 0 467.2 533.5 V538 A6.8 6.8 0 0 0 474 544.8 H493.5 Z M493.5 530.3 H475.6 A3.2 3.2 0 0 0 472.4 533.5 V537.8 A3.2 3.2 0 0 0 475.6 541 H493.5 Z"/>
<path fill="#ff7203" fill-rule="evenodd" d="M504.7 515.6 H527.9 A8 8 0 0 1 535.9 523.6 V536.8 A8 8 0 0 1 527.9 544.8 H509.9 V557.1 H504.7 Z M509.9 519.5 V540.9 H526.7 A4 4 0 0 0 530.7 536.9 V523.5 A4 4 0 0 0 526.7 519.5 Z"/>
<path fill="#ff8a00" fill-rule="evenodd" d="M549.1 515.6 H563.9 A8 8 0 0 1 571.9 523.6 V536.8 A8 8 0 0 1 563.9 544.8 H549.1 A8 8 0 0 1 541.1 536.8 V523.6 A8 8 0 0 1 549.1 515.6 Z M550.3 519.5 A4 4 0 0 0 546.3 523.5 V536.9 A4 4 0 0 0 550.3 540.9 H562.7 A4 4 0 0 0 566.7 536.9 V523.5 A4 4 0 0 0 562.7 519.5 Z"/>
<path fill="#ff9800" d="M578.3 515.6 H583.5 V536.9 A4 4 0 0 0 587.5 540.9 H602.3 V515.6 H607.5 V544.8 H586.3 A8 8 0 0 1 578.3 536.8 Z"/>
<path fill="#ffa000" d="M615.8 515.6 H632.8 A8 8 0 0 1 640.8 523.6 V525 H635.6 V523.5 A4 4 0 0 0 631.6 519.5 H621 V544.8 H615.8 Z"/>
<path fill="#7a5bb6" d="M650.9 509.1 H656.1 V515.8 H669.7 V519.8 H656.1 V536.6 A4 4 0 0 0 660.1 540.6 H665.2 V534.5 H670.4 V544.6 H658.9 A8 8 0 0 1 650.9 536.6 V519.8 H646.3 V515.8 H650.9 Z"/>
<path fill="#7a5bb6" fill-rule="evenodd" d="M681 515.8 H695.6 A8 8 0 0 1 703.6 523.8 V532.2 H678.2 V536.6 A4 4 0 0 0 682.2 540.6 H698.4 V534.5 H703.6 V536.6 A8 8 0 0 1 695.6 544.6 H681 A8 8 0 0 1 673 536.6 V523.8 A8 8 0 0 1 681 515.8 Z M682.2 519.7 A4 4 0 0 0 678.2 523.7 V528.3 H698.4 V523.7 A4 4 0 0 0 694.4 519.7 Z"/>
<path fill="#7a5bb6" d="M718.1 515.8 H731.4 A8 8 0 0 1 739.4 523.8 V525.4 H734.2 V523.7 A4 4 0 0 0 730.2 519.7 H719.3 A4 4 0 0 0 715.3 523.7 V536.6 A4 4 0 0 0 719.3 540.6 H730.2 A4 4 0 0 0 734.2 536.6 V534.5 H739.4 V536.6 A8 8 0 0 1 731.4 544.6 H718.1 A8 8 0 0 1 710.1 536.6 V523.8 A8 8 0 0 1 718.1 515.8 Z"/>
</svg>
</body></html>
